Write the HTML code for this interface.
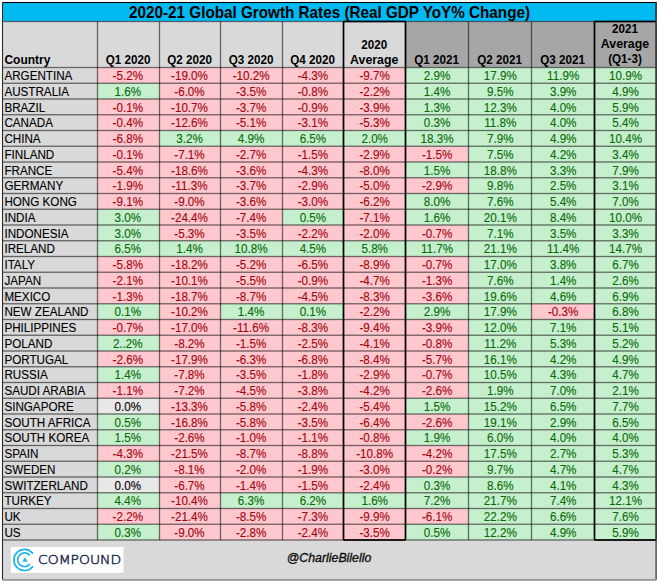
<!DOCTYPE html><html><head><meta charset="utf-8"><style>html,body{margin:0;padding:0;background:#fff;}svg{display:block;}text{font-family:"Liberation Sans",Arial,sans-serif;}</style></head><body>
<svg width="660" height="583" viewBox="0 0 660 583">
<rect x="2.5" y="2.5" width="653.6" height="19.0" fill="#02BAF2"/>
<rect x="2.5" y="21.5" width="403.0" height="46.0" fill="#D9D9D9"/>
<rect x="405.5" y="21.5" width="250.60000000000002" height="46.0" fill="#A6A6A6"/>
<rect x="2.5" y="67.5" width="95.0" height="472.5" fill="#D9D9D9"/>
<rect x="2.5" y="540.0" width="653.6" height="39.89999999999998" fill="#D9D9D9"/>
<rect x="97.5" y="67.5" width="62.0" height="15.75" fill="#FFC7CE"/>
<rect x="159.5" y="67.5" width="61.0" height="15.75" fill="#FFC7CE"/>
<rect x="220.5" y="67.5" width="62.0" height="15.75" fill="#FFC7CE"/>
<rect x="282.5" y="67.5" width="61.0" height="15.75" fill="#FFC7CE"/>
<rect x="343.5" y="67.5" width="62.0" height="15.75" fill="#FFC7CE"/>
<rect x="405.5" y="67.5" width="63.0" height="15.75" fill="#C6EFCE"/>
<rect x="468.5" y="67.5" width="63.0" height="15.75" fill="#C6EFCE"/>
<rect x="531.5" y="67.5" width="63.0" height="15.75" fill="#C6EFCE"/>
<rect x="594.5" y="67.5" width="61.60000000000002" height="15.75" fill="#C6EFCE"/>
<rect x="97.5" y="83.25" width="62.0" height="15.75" fill="#C6EFCE"/>
<rect x="159.5" y="83.25" width="61.0" height="15.75" fill="#FFC7CE"/>
<rect x="220.5" y="83.25" width="62.0" height="15.75" fill="#FFC7CE"/>
<rect x="282.5" y="83.25" width="61.0" height="15.75" fill="#FFC7CE"/>
<rect x="343.5" y="83.25" width="62.0" height="15.75" fill="#FFC7CE"/>
<rect x="405.5" y="83.25" width="63.0" height="15.75" fill="#C6EFCE"/>
<rect x="468.5" y="83.25" width="63.0" height="15.75" fill="#C6EFCE"/>
<rect x="531.5" y="83.25" width="63.0" height="15.75" fill="#C6EFCE"/>
<rect x="594.5" y="83.25" width="61.60000000000002" height="15.75" fill="#C6EFCE"/>
<rect x="97.5" y="99.0" width="62.0" height="15.75" fill="#FFC7CE"/>
<rect x="159.5" y="99.0" width="61.0" height="15.75" fill="#FFC7CE"/>
<rect x="220.5" y="99.0" width="62.0" height="15.75" fill="#FFC7CE"/>
<rect x="282.5" y="99.0" width="61.0" height="15.75" fill="#FFC7CE"/>
<rect x="343.5" y="99.0" width="62.0" height="15.75" fill="#FFC7CE"/>
<rect x="405.5" y="99.0" width="63.0" height="15.75" fill="#C6EFCE"/>
<rect x="468.5" y="99.0" width="63.0" height="15.75" fill="#C6EFCE"/>
<rect x="531.5" y="99.0" width="63.0" height="15.75" fill="#C6EFCE"/>
<rect x="594.5" y="99.0" width="61.60000000000002" height="15.75" fill="#C6EFCE"/>
<rect x="97.5" y="114.75" width="62.0" height="15.75" fill="#FFC7CE"/>
<rect x="159.5" y="114.75" width="61.0" height="15.75" fill="#FFC7CE"/>
<rect x="220.5" y="114.75" width="62.0" height="15.75" fill="#FFC7CE"/>
<rect x="282.5" y="114.75" width="61.0" height="15.75" fill="#FFC7CE"/>
<rect x="343.5" y="114.75" width="62.0" height="15.75" fill="#FFC7CE"/>
<rect x="405.5" y="114.75" width="63.0" height="15.75" fill="#C6EFCE"/>
<rect x="468.5" y="114.75" width="63.0" height="15.75" fill="#C6EFCE"/>
<rect x="531.5" y="114.75" width="63.0" height="15.75" fill="#C6EFCE"/>
<rect x="594.5" y="114.75" width="61.60000000000002" height="15.75" fill="#C6EFCE"/>
<rect x="97.5" y="130.5" width="62.0" height="15.75" fill="#FFC7CE"/>
<rect x="159.5" y="130.5" width="61.0" height="15.75" fill="#C6EFCE"/>
<rect x="220.5" y="130.5" width="62.0" height="15.75" fill="#C6EFCE"/>
<rect x="282.5" y="130.5" width="61.0" height="15.75" fill="#C6EFCE"/>
<rect x="343.5" y="130.5" width="62.0" height="15.75" fill="#C6EFCE"/>
<rect x="405.5" y="130.5" width="63.0" height="15.75" fill="#C6EFCE"/>
<rect x="468.5" y="130.5" width="63.0" height="15.75" fill="#C6EFCE"/>
<rect x="531.5" y="130.5" width="63.0" height="15.75" fill="#C6EFCE"/>
<rect x="594.5" y="130.5" width="61.60000000000002" height="15.75" fill="#C6EFCE"/>
<rect x="97.5" y="146.25" width="62.0" height="15.75" fill="#FFC7CE"/>
<rect x="159.5" y="146.25" width="61.0" height="15.75" fill="#FFC7CE"/>
<rect x="220.5" y="146.25" width="62.0" height="15.75" fill="#FFC7CE"/>
<rect x="282.5" y="146.25" width="61.0" height="15.75" fill="#FFC7CE"/>
<rect x="343.5" y="146.25" width="62.0" height="15.75" fill="#FFC7CE"/>
<rect x="405.5" y="146.25" width="63.0" height="15.75" fill="#FFC7CE"/>
<rect x="468.5" y="146.25" width="63.0" height="15.75" fill="#C6EFCE"/>
<rect x="531.5" y="146.25" width="63.0" height="15.75" fill="#C6EFCE"/>
<rect x="594.5" y="146.25" width="61.60000000000002" height="15.75" fill="#C6EFCE"/>
<rect x="97.5" y="162.0" width="62.0" height="15.75" fill="#FFC7CE"/>
<rect x="159.5" y="162.0" width="61.0" height="15.75" fill="#FFC7CE"/>
<rect x="220.5" y="162.0" width="62.0" height="15.75" fill="#FFC7CE"/>
<rect x="282.5" y="162.0" width="61.0" height="15.75" fill="#FFC7CE"/>
<rect x="343.5" y="162.0" width="62.0" height="15.75" fill="#FFC7CE"/>
<rect x="405.5" y="162.0" width="63.0" height="15.75" fill="#C6EFCE"/>
<rect x="468.5" y="162.0" width="63.0" height="15.75" fill="#C6EFCE"/>
<rect x="531.5" y="162.0" width="63.0" height="15.75" fill="#C6EFCE"/>
<rect x="594.5" y="162.0" width="61.60000000000002" height="15.75" fill="#C6EFCE"/>
<rect x="97.5" y="177.75" width="62.0" height="15.75" fill="#FFC7CE"/>
<rect x="159.5" y="177.75" width="61.0" height="15.75" fill="#FFC7CE"/>
<rect x="220.5" y="177.75" width="62.0" height="15.75" fill="#FFC7CE"/>
<rect x="282.5" y="177.75" width="61.0" height="15.75" fill="#FFC7CE"/>
<rect x="343.5" y="177.75" width="62.0" height="15.75" fill="#FFC7CE"/>
<rect x="405.5" y="177.75" width="63.0" height="15.75" fill="#FFC7CE"/>
<rect x="468.5" y="177.75" width="63.0" height="15.75" fill="#C6EFCE"/>
<rect x="531.5" y="177.75" width="63.0" height="15.75" fill="#C6EFCE"/>
<rect x="594.5" y="177.75" width="61.60000000000002" height="15.75" fill="#C6EFCE"/>
<rect x="97.5" y="193.5" width="62.0" height="15.75" fill="#FFC7CE"/>
<rect x="159.5" y="193.5" width="61.0" height="15.75" fill="#FFC7CE"/>
<rect x="220.5" y="193.5" width="62.0" height="15.75" fill="#FFC7CE"/>
<rect x="282.5" y="193.5" width="61.0" height="15.75" fill="#FFC7CE"/>
<rect x="343.5" y="193.5" width="62.0" height="15.75" fill="#FFC7CE"/>
<rect x="405.5" y="193.5" width="63.0" height="15.75" fill="#C6EFCE"/>
<rect x="468.5" y="193.5" width="63.0" height="15.75" fill="#C6EFCE"/>
<rect x="531.5" y="193.5" width="63.0" height="15.75" fill="#C6EFCE"/>
<rect x="594.5" y="193.5" width="61.60000000000002" height="15.75" fill="#C6EFCE"/>
<rect x="97.5" y="209.25" width="62.0" height="15.75" fill="#C6EFCE"/>
<rect x="159.5" y="209.25" width="61.0" height="15.75" fill="#FFC7CE"/>
<rect x="220.5" y="209.25" width="62.0" height="15.75" fill="#FFC7CE"/>
<rect x="282.5" y="209.25" width="61.0" height="15.75" fill="#C6EFCE"/>
<rect x="343.5" y="209.25" width="62.0" height="15.75" fill="#FFC7CE"/>
<rect x="405.5" y="209.25" width="63.0" height="15.75" fill="#C6EFCE"/>
<rect x="468.5" y="209.25" width="63.0" height="15.75" fill="#C6EFCE"/>
<rect x="531.5" y="209.25" width="63.0" height="15.75" fill="#C6EFCE"/>
<rect x="594.5" y="209.25" width="61.60000000000002" height="15.75" fill="#C6EFCE"/>
<rect x="97.5" y="225.0" width="62.0" height="15.75" fill="#C6EFCE"/>
<rect x="159.5" y="225.0" width="61.0" height="15.75" fill="#FFC7CE"/>
<rect x="220.5" y="225.0" width="62.0" height="15.75" fill="#FFC7CE"/>
<rect x="282.5" y="225.0" width="61.0" height="15.75" fill="#FFC7CE"/>
<rect x="343.5" y="225.0" width="62.0" height="15.75" fill="#FFC7CE"/>
<rect x="405.5" y="225.0" width="63.0" height="15.75" fill="#FFC7CE"/>
<rect x="468.5" y="225.0" width="63.0" height="15.75" fill="#C6EFCE"/>
<rect x="531.5" y="225.0" width="63.0" height="15.75" fill="#C6EFCE"/>
<rect x="594.5" y="225.0" width="61.60000000000002" height="15.75" fill="#C6EFCE"/>
<rect x="97.5" y="240.75" width="62.0" height="15.75" fill="#C6EFCE"/>
<rect x="159.5" y="240.75" width="61.0" height="15.75" fill="#C6EFCE"/>
<rect x="220.5" y="240.75" width="62.0" height="15.75" fill="#C6EFCE"/>
<rect x="282.5" y="240.75" width="61.0" height="15.75" fill="#C6EFCE"/>
<rect x="343.5" y="240.75" width="62.0" height="15.75" fill="#C6EFCE"/>
<rect x="405.5" y="240.75" width="63.0" height="15.75" fill="#C6EFCE"/>
<rect x="468.5" y="240.75" width="63.0" height="15.75" fill="#C6EFCE"/>
<rect x="531.5" y="240.75" width="63.0" height="15.75" fill="#C6EFCE"/>
<rect x="594.5" y="240.75" width="61.60000000000002" height="15.75" fill="#C6EFCE"/>
<rect x="97.5" y="256.5" width="62.0" height="15.75" fill="#FFC7CE"/>
<rect x="159.5" y="256.5" width="61.0" height="15.75" fill="#FFC7CE"/>
<rect x="220.5" y="256.5" width="62.0" height="15.75" fill="#FFC7CE"/>
<rect x="282.5" y="256.5" width="61.0" height="15.75" fill="#FFC7CE"/>
<rect x="343.5" y="256.5" width="62.0" height="15.75" fill="#FFC7CE"/>
<rect x="405.5" y="256.5" width="63.0" height="15.75" fill="#FFC7CE"/>
<rect x="468.5" y="256.5" width="63.0" height="15.75" fill="#C6EFCE"/>
<rect x="531.5" y="256.5" width="63.0" height="15.75" fill="#C6EFCE"/>
<rect x="594.5" y="256.5" width="61.60000000000002" height="15.75" fill="#C6EFCE"/>
<rect x="97.5" y="272.25" width="62.0" height="15.75" fill="#FFC7CE"/>
<rect x="159.5" y="272.25" width="61.0" height="15.75" fill="#FFC7CE"/>
<rect x="220.5" y="272.25" width="62.0" height="15.75" fill="#FFC7CE"/>
<rect x="282.5" y="272.25" width="61.0" height="15.75" fill="#FFC7CE"/>
<rect x="343.5" y="272.25" width="62.0" height="15.75" fill="#FFC7CE"/>
<rect x="405.5" y="272.25" width="63.0" height="15.75" fill="#FFC7CE"/>
<rect x="468.5" y="272.25" width="63.0" height="15.75" fill="#C6EFCE"/>
<rect x="531.5" y="272.25" width="63.0" height="15.75" fill="#C6EFCE"/>
<rect x="594.5" y="272.25" width="61.60000000000002" height="15.75" fill="#C6EFCE"/>
<rect x="97.5" y="288.0" width="62.0" height="15.75" fill="#FFC7CE"/>
<rect x="159.5" y="288.0" width="61.0" height="15.75" fill="#FFC7CE"/>
<rect x="220.5" y="288.0" width="62.0" height="15.75" fill="#FFC7CE"/>
<rect x="282.5" y="288.0" width="61.0" height="15.75" fill="#FFC7CE"/>
<rect x="343.5" y="288.0" width="62.0" height="15.75" fill="#FFC7CE"/>
<rect x="405.5" y="288.0" width="63.0" height="15.75" fill="#FFC7CE"/>
<rect x="468.5" y="288.0" width="63.0" height="15.75" fill="#C6EFCE"/>
<rect x="531.5" y="288.0" width="63.0" height="15.75" fill="#C6EFCE"/>
<rect x="594.5" y="288.0" width="61.60000000000002" height="15.75" fill="#C6EFCE"/>
<rect x="97.5" y="303.75" width="62.0" height="15.75" fill="#C6EFCE"/>
<rect x="159.5" y="303.75" width="61.0" height="15.75" fill="#FFC7CE"/>
<rect x="220.5" y="303.75" width="62.0" height="15.75" fill="#C6EFCE"/>
<rect x="282.5" y="303.75" width="61.0" height="15.75" fill="#C6EFCE"/>
<rect x="343.5" y="303.75" width="62.0" height="15.75" fill="#FFC7CE"/>
<rect x="405.5" y="303.75" width="63.0" height="15.75" fill="#C6EFCE"/>
<rect x="468.5" y="303.75" width="63.0" height="15.75" fill="#C6EFCE"/>
<rect x="531.5" y="303.75" width="63.0" height="15.75" fill="#FFC7CE"/>
<rect x="594.5" y="303.75" width="61.60000000000002" height="15.75" fill="#C6EFCE"/>
<rect x="97.5" y="319.5" width="62.0" height="15.75" fill="#FFC7CE"/>
<rect x="159.5" y="319.5" width="61.0" height="15.75" fill="#FFC7CE"/>
<rect x="220.5" y="319.5" width="62.0" height="15.75" fill="#FFC7CE"/>
<rect x="282.5" y="319.5" width="61.0" height="15.75" fill="#FFC7CE"/>
<rect x="343.5" y="319.5" width="62.0" height="15.75" fill="#FFC7CE"/>
<rect x="405.5" y="319.5" width="63.0" height="15.75" fill="#FFC7CE"/>
<rect x="468.5" y="319.5" width="63.0" height="15.75" fill="#C6EFCE"/>
<rect x="531.5" y="319.5" width="63.0" height="15.75" fill="#C6EFCE"/>
<rect x="594.5" y="319.5" width="61.60000000000002" height="15.75" fill="#C6EFCE"/>
<rect x="97.5" y="335.25" width="62.0" height="15.75" fill="#C6EFCE"/>
<rect x="159.5" y="335.25" width="61.0" height="15.75" fill="#FFC7CE"/>
<rect x="220.5" y="335.25" width="62.0" height="15.75" fill="#FFC7CE"/>
<rect x="282.5" y="335.25" width="61.0" height="15.75" fill="#FFC7CE"/>
<rect x="343.5" y="335.25" width="62.0" height="15.75" fill="#FFC7CE"/>
<rect x="405.5" y="335.25" width="63.0" height="15.75" fill="#FFC7CE"/>
<rect x="468.5" y="335.25" width="63.0" height="15.75" fill="#C6EFCE"/>
<rect x="531.5" y="335.25" width="63.0" height="15.75" fill="#C6EFCE"/>
<rect x="594.5" y="335.25" width="61.60000000000002" height="15.75" fill="#C6EFCE"/>
<rect x="97.5" y="351.0" width="62.0" height="15.75" fill="#FFC7CE"/>
<rect x="159.5" y="351.0" width="61.0" height="15.75" fill="#FFC7CE"/>
<rect x="220.5" y="351.0" width="62.0" height="15.75" fill="#FFC7CE"/>
<rect x="282.5" y="351.0" width="61.0" height="15.75" fill="#FFC7CE"/>
<rect x="343.5" y="351.0" width="62.0" height="15.75" fill="#FFC7CE"/>
<rect x="405.5" y="351.0" width="63.0" height="15.75" fill="#FFC7CE"/>
<rect x="468.5" y="351.0" width="63.0" height="15.75" fill="#C6EFCE"/>
<rect x="531.5" y="351.0" width="63.0" height="15.75" fill="#C6EFCE"/>
<rect x="594.5" y="351.0" width="61.60000000000002" height="15.75" fill="#C6EFCE"/>
<rect x="97.5" y="366.75" width="62.0" height="15.75" fill="#C6EFCE"/>
<rect x="159.5" y="366.75" width="61.0" height="15.75" fill="#FFC7CE"/>
<rect x="220.5" y="366.75" width="62.0" height="15.75" fill="#FFC7CE"/>
<rect x="282.5" y="366.75" width="61.0" height="15.75" fill="#FFC7CE"/>
<rect x="343.5" y="366.75" width="62.0" height="15.75" fill="#FFC7CE"/>
<rect x="405.5" y="366.75" width="63.0" height="15.75" fill="#FFC7CE"/>
<rect x="468.5" y="366.75" width="63.0" height="15.75" fill="#C6EFCE"/>
<rect x="531.5" y="366.75" width="63.0" height="15.75" fill="#C6EFCE"/>
<rect x="594.5" y="366.75" width="61.60000000000002" height="15.75" fill="#C6EFCE"/>
<rect x="97.5" y="382.5" width="62.0" height="15.75" fill="#FFC7CE"/>
<rect x="159.5" y="382.5" width="61.0" height="15.75" fill="#FFC7CE"/>
<rect x="220.5" y="382.5" width="62.0" height="15.75" fill="#FFC7CE"/>
<rect x="282.5" y="382.5" width="61.0" height="15.75" fill="#FFC7CE"/>
<rect x="343.5" y="382.5" width="62.0" height="15.75" fill="#FFC7CE"/>
<rect x="405.5" y="382.5" width="63.0" height="15.75" fill="#FFC7CE"/>
<rect x="468.5" y="382.5" width="63.0" height="15.75" fill="#C6EFCE"/>
<rect x="531.5" y="382.5" width="63.0" height="15.75" fill="#C6EFCE"/>
<rect x="594.5" y="382.5" width="61.60000000000002" height="15.75" fill="#C6EFCE"/>
<rect x="97.5" y="398.25" width="62.0" height="15.75" fill="#E8E8E8"/>
<rect x="159.5" y="398.25" width="61.0" height="15.75" fill="#FFC7CE"/>
<rect x="220.5" y="398.25" width="62.0" height="15.75" fill="#FFC7CE"/>
<rect x="282.5" y="398.25" width="61.0" height="15.75" fill="#FFC7CE"/>
<rect x="343.5" y="398.25" width="62.0" height="15.75" fill="#FFC7CE"/>
<rect x="405.5" y="398.25" width="63.0" height="15.75" fill="#C6EFCE"/>
<rect x="468.5" y="398.25" width="63.0" height="15.75" fill="#C6EFCE"/>
<rect x="531.5" y="398.25" width="63.0" height="15.75" fill="#C6EFCE"/>
<rect x="594.5" y="398.25" width="61.60000000000002" height="15.75" fill="#C6EFCE"/>
<rect x="97.5" y="414.0" width="62.0" height="15.75" fill="#C6EFCE"/>
<rect x="159.5" y="414.0" width="61.0" height="15.75" fill="#FFC7CE"/>
<rect x="220.5" y="414.0" width="62.0" height="15.75" fill="#FFC7CE"/>
<rect x="282.5" y="414.0" width="61.0" height="15.75" fill="#FFC7CE"/>
<rect x="343.5" y="414.0" width="62.0" height="15.75" fill="#FFC7CE"/>
<rect x="405.5" y="414.0" width="63.0" height="15.75" fill="#FFC7CE"/>
<rect x="468.5" y="414.0" width="63.0" height="15.75" fill="#C6EFCE"/>
<rect x="531.5" y="414.0" width="63.0" height="15.75" fill="#C6EFCE"/>
<rect x="594.5" y="414.0" width="61.60000000000002" height="15.75" fill="#C6EFCE"/>
<rect x="97.5" y="429.75" width="62.0" height="15.75" fill="#C6EFCE"/>
<rect x="159.5" y="429.75" width="61.0" height="15.75" fill="#FFC7CE"/>
<rect x="220.5" y="429.75" width="62.0" height="15.75" fill="#FFC7CE"/>
<rect x="282.5" y="429.75" width="61.0" height="15.75" fill="#FFC7CE"/>
<rect x="343.5" y="429.75" width="62.0" height="15.75" fill="#FFC7CE"/>
<rect x="405.5" y="429.75" width="63.0" height="15.75" fill="#C6EFCE"/>
<rect x="468.5" y="429.75" width="63.0" height="15.75" fill="#C6EFCE"/>
<rect x="531.5" y="429.75" width="63.0" height="15.75" fill="#C6EFCE"/>
<rect x="594.5" y="429.75" width="61.60000000000002" height="15.75" fill="#C6EFCE"/>
<rect x="97.5" y="445.5" width="62.0" height="15.75" fill="#FFC7CE"/>
<rect x="159.5" y="445.5" width="61.0" height="15.75" fill="#FFC7CE"/>
<rect x="220.5" y="445.5" width="62.0" height="15.75" fill="#FFC7CE"/>
<rect x="282.5" y="445.5" width="61.0" height="15.75" fill="#FFC7CE"/>
<rect x="343.5" y="445.5" width="62.0" height="15.75" fill="#FFC7CE"/>
<rect x="405.5" y="445.5" width="63.0" height="15.75" fill="#FFC7CE"/>
<rect x="468.5" y="445.5" width="63.0" height="15.75" fill="#C6EFCE"/>
<rect x="531.5" y="445.5" width="63.0" height="15.75" fill="#C6EFCE"/>
<rect x="594.5" y="445.5" width="61.60000000000002" height="15.75" fill="#C6EFCE"/>
<rect x="97.5" y="461.25" width="62.0" height="15.75" fill="#C6EFCE"/>
<rect x="159.5" y="461.25" width="61.0" height="15.75" fill="#FFC7CE"/>
<rect x="220.5" y="461.25" width="62.0" height="15.75" fill="#FFC7CE"/>
<rect x="282.5" y="461.25" width="61.0" height="15.75" fill="#FFC7CE"/>
<rect x="343.5" y="461.25" width="62.0" height="15.75" fill="#FFC7CE"/>
<rect x="405.5" y="461.25" width="63.0" height="15.75" fill="#FFC7CE"/>
<rect x="468.5" y="461.25" width="63.0" height="15.75" fill="#C6EFCE"/>
<rect x="531.5" y="461.25" width="63.0" height="15.75" fill="#C6EFCE"/>
<rect x="594.5" y="461.25" width="61.60000000000002" height="15.75" fill="#C6EFCE"/>
<rect x="97.5" y="477.0" width="62.0" height="15.75" fill="#E8E8E8"/>
<rect x="159.5" y="477.0" width="61.0" height="15.75" fill="#FFC7CE"/>
<rect x="220.5" y="477.0" width="62.0" height="15.75" fill="#FFC7CE"/>
<rect x="282.5" y="477.0" width="61.0" height="15.75" fill="#FFC7CE"/>
<rect x="343.5" y="477.0" width="62.0" height="15.75" fill="#FFC7CE"/>
<rect x="405.5" y="477.0" width="63.0" height="15.75" fill="#C6EFCE"/>
<rect x="468.5" y="477.0" width="63.0" height="15.75" fill="#C6EFCE"/>
<rect x="531.5" y="477.0" width="63.0" height="15.75" fill="#C6EFCE"/>
<rect x="594.5" y="477.0" width="61.60000000000002" height="15.75" fill="#C6EFCE"/>
<rect x="97.5" y="492.75" width="62.0" height="15.75" fill="#C6EFCE"/>
<rect x="159.5" y="492.75" width="61.0" height="15.75" fill="#FFC7CE"/>
<rect x="220.5" y="492.75" width="62.0" height="15.75" fill="#C6EFCE"/>
<rect x="282.5" y="492.75" width="61.0" height="15.75" fill="#C6EFCE"/>
<rect x="343.5" y="492.75" width="62.0" height="15.75" fill="#C6EFCE"/>
<rect x="405.5" y="492.75" width="63.0" height="15.75" fill="#C6EFCE"/>
<rect x="468.5" y="492.75" width="63.0" height="15.75" fill="#C6EFCE"/>
<rect x="531.5" y="492.75" width="63.0" height="15.75" fill="#C6EFCE"/>
<rect x="594.5" y="492.75" width="61.60000000000002" height="15.75" fill="#C6EFCE"/>
<rect x="97.5" y="508.5" width="62.0" height="15.75" fill="#FFC7CE"/>
<rect x="159.5" y="508.5" width="61.0" height="15.75" fill="#FFC7CE"/>
<rect x="220.5" y="508.5" width="62.0" height="15.75" fill="#FFC7CE"/>
<rect x="282.5" y="508.5" width="61.0" height="15.75" fill="#FFC7CE"/>
<rect x="343.5" y="508.5" width="62.0" height="15.75" fill="#FFC7CE"/>
<rect x="405.5" y="508.5" width="63.0" height="15.75" fill="#FFC7CE"/>
<rect x="468.5" y="508.5" width="63.0" height="15.75" fill="#C6EFCE"/>
<rect x="531.5" y="508.5" width="63.0" height="15.75" fill="#C6EFCE"/>
<rect x="594.5" y="508.5" width="61.60000000000002" height="15.75" fill="#C6EFCE"/>
<rect x="97.5" y="524.25" width="62.0" height="15.75" fill="#C6EFCE"/>
<rect x="159.5" y="524.25" width="61.0" height="15.75" fill="#FFC7CE"/>
<rect x="220.5" y="524.25" width="62.0" height="15.75" fill="#FFC7CE"/>
<rect x="282.5" y="524.25" width="61.0" height="15.75" fill="#FFC7CE"/>
<rect x="343.5" y="524.25" width="62.0" height="15.75" fill="#FFC7CE"/>
<rect x="405.5" y="524.25" width="63.0" height="15.75" fill="#C6EFCE"/>
<rect x="468.5" y="524.25" width="63.0" height="15.75" fill="#C6EFCE"/>
<rect x="531.5" y="524.25" width="63.0" height="15.75" fill="#C6EFCE"/>
<rect x="594.5" y="524.25" width="61.60000000000002" height="15.75" fill="#C6EFCE"/>
<rect x="2.5" y="66.850" width="653.6" height="1.3" fill="#000" fill-opacity="0.55"/>
<rect x="2.5" y="82.600" width="653.6" height="1.3" fill="#000" fill-opacity="0.55"/>
<rect x="2.5" y="98.350" width="653.6" height="1.3" fill="#000" fill-opacity="0.55"/>
<rect x="2.5" y="114.100" width="653.6" height="1.3" fill="#000" fill-opacity="0.55"/>
<rect x="2.5" y="129.850" width="653.6" height="1.3" fill="#000" fill-opacity="0.55"/>
<rect x="2.5" y="145.600" width="653.6" height="1.3" fill="#000" fill-opacity="0.55"/>
<rect x="2.5" y="161.350" width="653.6" height="1.3" fill="#000" fill-opacity="0.55"/>
<rect x="2.5" y="177.100" width="653.6" height="1.3" fill="#000" fill-opacity="0.55"/>
<rect x="2.5" y="192.850" width="653.6" height="1.3" fill="#000" fill-opacity="0.55"/>
<rect x="2.5" y="208.600" width="653.6" height="1.3" fill="#000" fill-opacity="0.55"/>
<rect x="2.5" y="224.350" width="653.6" height="1.3" fill="#000" fill-opacity="0.55"/>
<rect x="2.5" y="240.100" width="653.6" height="1.3" fill="#000" fill-opacity="0.55"/>
<rect x="2.5" y="255.850" width="653.6" height="1.3" fill="#000" fill-opacity="0.55"/>
<rect x="2.5" y="271.600" width="653.6" height="1.3" fill="#000" fill-opacity="0.55"/>
<rect x="2.5" y="287.350" width="653.6" height="1.3" fill="#000" fill-opacity="0.55"/>
<rect x="2.5" y="303.100" width="653.6" height="1.3" fill="#000" fill-opacity="0.55"/>
<rect x="2.5" y="318.850" width="653.6" height="1.3" fill="#000" fill-opacity="0.55"/>
<rect x="2.5" y="334.600" width="653.6" height="1.3" fill="#000" fill-opacity="0.55"/>
<rect x="2.5" y="350.350" width="653.6" height="1.3" fill="#000" fill-opacity="0.55"/>
<rect x="2.5" y="366.100" width="653.6" height="1.3" fill="#000" fill-opacity="0.55"/>
<rect x="2.5" y="381.850" width="653.6" height="1.3" fill="#000" fill-opacity="0.55"/>
<rect x="2.5" y="397.600" width="653.6" height="1.3" fill="#000" fill-opacity="0.55"/>
<rect x="2.5" y="413.350" width="653.6" height="1.3" fill="#000" fill-opacity="0.55"/>
<rect x="2.5" y="429.100" width="653.6" height="1.3" fill="#000" fill-opacity="0.55"/>
<rect x="2.5" y="444.850" width="653.6" height="1.3" fill="#000" fill-opacity="0.55"/>
<rect x="2.5" y="460.600" width="653.6" height="1.3" fill="#000" fill-opacity="0.55"/>
<rect x="2.5" y="476.350" width="653.6" height="1.3" fill="#000" fill-opacity="0.55"/>
<rect x="2.5" y="492.100" width="653.6" height="1.3" fill="#000" fill-opacity="0.55"/>
<rect x="2.5" y="507.850" width="653.6" height="1.3" fill="#000" fill-opacity="0.55"/>
<rect x="2.5" y="523.600" width="653.6" height="1.3" fill="#000" fill-opacity="0.55"/>
<rect x="2.5" y="539.350" width="653.6" height="1.3" fill="#000" fill-opacity="0.55"/>
<rect x="2.5" y="1.950" width="654.2" height="1.1" fill="#000" fill-opacity="1"/>
<rect x="2.5" y="20.850" width="653.6" height="1.3" fill="#000" fill-opacity="0.55"/>
<rect x="96.850" y="21.5" width="1.3" height="518.5" fill="#000" fill-opacity="0.55"/>
<rect x="158.850" y="21.5" width="1.3" height="518.5" fill="#000" fill-opacity="0.55"/>
<rect x="219.850" y="21.5" width="1.3" height="518.5" fill="#000" fill-opacity="0.55"/>
<rect x="281.850" y="21.5" width="1.3" height="518.5" fill="#000" fill-opacity="0.55"/>
<rect x="342.850" y="21.5" width="1.3" height="518.5" fill="#000" fill-opacity="0.55"/>
<rect x="404.850" y="21.5" width="1.3" height="518.5" fill="#000" fill-opacity="0.55"/>
<rect x="467.850" y="21.5" width="1.3" height="518.5" fill="#000" fill-opacity="0.55"/>
<rect x="530.850" y="21.5" width="1.3" height="518.5" fill="#000" fill-opacity="0.55"/>
<rect x="593.850" y="21.5" width="1.3" height="518.5" fill="#000" fill-opacity="0.55"/>
<rect x="342.700" y="21.5" width="1.6" height="518.5" fill="#000" fill-opacity="1"/>
<rect x="404.700" y="21.5" width="1.6" height="518.5" fill="#000" fill-opacity="1"/>
<rect x="343.5" y="20.700" width="62.0" height="1.6" fill="#000" fill-opacity="1"/>
<rect x="343.5" y="539.200" width="62.0" height="1.6" fill="#000" fill-opacity="1"/>
<rect x="593.700" y="21.5" width="1.6" height="518.5" fill="#000" fill-opacity="1"/>
<rect x="655.300" y="21.5" width="1.6" height="518.5" fill="#2a2a2a" fill-opacity="1"/>
<rect x="594.5" y="20.700" width="61.60000000000002" height="1.6" fill="#000" fill-opacity="1"/>
<rect x="594.5" y="539.200" width="61.60000000000002" height="1.6" fill="#000" fill-opacity="1"/>
<rect x="1.950" y="2.5" width="1.1" height="577.4" fill="#2a2a2a" fill-opacity="1"/>
<rect x="655.350" y="2.5" width="1.5" height="19.0" fill="#222" fill-opacity="1"/>
<rect x="655.400" y="540.0" width="1.4" height="39.89999999999998" fill="#444" fill-opacity="1"/>
<rect x="2.5" y="579.000" width="654.2" height="1.8" fill="#979797" fill-opacity="1"/>
<text x="329.55" y="17.6" text-anchor="middle" font-size="15.7" font-weight="bold" fill="#000" textLength="401" lengthAdjust="spacingAndGlyphs">2020-21 Global Growth Rates (Real GDP YoY% Change)</text>
<text x="4.4" y="63.7" font-size="12.0" font-weight="bold" fill="#000" textLength="46" lengthAdjust="spacingAndGlyphs">Country</text>
<text x="128.1" y="63.6" text-anchor="middle" font-size="12.0" font-weight="bold" fill="#000" textLength="44.69" lengthAdjust="spacingAndGlyphs">Q1 2020</text>
<text x="189.6" y="63.6" text-anchor="middle" font-size="12.0" font-weight="bold" fill="#000" textLength="44.69" lengthAdjust="spacingAndGlyphs">Q2 2020</text>
<text x="251.1" y="63.6" text-anchor="middle" font-size="12.0" font-weight="bold" fill="#000" textLength="44.69" lengthAdjust="spacingAndGlyphs">Q3 2020</text>
<text x="312.6" y="63.6" text-anchor="middle" font-size="12.0" font-weight="bold" fill="#000" textLength="44.69" lengthAdjust="spacingAndGlyphs">Q4 2020</text>
<text x="436.6" y="63.6" text-anchor="middle" font-size="12.0" font-weight="bold" fill="#000" textLength="44.69" lengthAdjust="spacingAndGlyphs">Q1 2021</text>
<text x="499.6" y="63.6" text-anchor="middle" font-size="12.0" font-weight="bold" fill="#000" textLength="44.69" lengthAdjust="spacingAndGlyphs">Q2 2021</text>
<text x="562.6" y="63.6" text-anchor="middle" font-size="12.0" font-weight="bold" fill="#000" textLength="44.69" lengthAdjust="spacingAndGlyphs">Q3 2021</text>
<text x="374.2" y="48.6" text-anchor="middle" font-size="12.0" font-weight="bold" fill="#000" textLength="25.92" lengthAdjust="spacingAndGlyphs">2020</text>
<text x="374.2" y="63.5" text-anchor="middle" font-size="12.0" font-weight="bold" fill="#000" textLength="48.30" lengthAdjust="spacingAndGlyphs">Average</text>
<text x="625.0" y="33.3" text-anchor="middle" font-size="12.0" font-weight="bold" fill="#000" textLength="25.92" lengthAdjust="spacingAndGlyphs">2021</text>
<text x="625.0" y="48.3" text-anchor="middle" font-size="12.0" font-weight="bold" fill="#000" textLength="48.30" lengthAdjust="spacingAndGlyphs">Average</text>
<text x="625.0" y="63.3" text-anchor="middle" font-size="12.0" font-weight="bold" fill="#000" textLength="33.66" lengthAdjust="spacingAndGlyphs">(Q1-3)</text>
<text x="4.4" y="80.00" font-size="12.0" fill="#000" stroke="#000" stroke-width="0.12" textLength="67.97" lengthAdjust="spacingAndGlyphs">ARGENTINA</text>
<text x="127.80" y="80.00" text-anchor="middle" font-size="12.0" fill="#A2060E" stroke="#A2060E" stroke-width="0.12" textLength="30.43" lengthAdjust="spacingAndGlyphs">-5.2%</text>
<text x="189.50" y="80.00" text-anchor="middle" font-size="12.0" fill="#A2060E" stroke="#A2060E" stroke-width="0.12" textLength="36.91" lengthAdjust="spacingAndGlyphs">-19.0%</text>
<text x="251.10" y="80.00" text-anchor="middle" font-size="12.0" fill="#A2060E" stroke="#A2060E" stroke-width="0.12" textLength="36.91" lengthAdjust="spacingAndGlyphs">-10.2%</text>
<text x="312.90" y="80.00" text-anchor="middle" font-size="12.0" fill="#A2060E" stroke="#A2060E" stroke-width="0.12" textLength="30.43" lengthAdjust="spacingAndGlyphs">-4.3%</text>
<text x="374.70" y="80.00" text-anchor="middle" font-size="12.0" fill="#A2060E" stroke="#A2060E" stroke-width="0.12" textLength="30.43" lengthAdjust="spacingAndGlyphs">-9.7%</text>
<text x="437.10" y="80.00" text-anchor="middle" font-size="12.0" fill="#086C08" stroke="#086C08" stroke-width="0.12" textLength="26.55" lengthAdjust="spacingAndGlyphs">2.9%</text>
<text x="500.30" y="80.00" text-anchor="middle" font-size="12.0" fill="#086C08" stroke="#086C08" stroke-width="0.12" textLength="33.03" lengthAdjust="spacingAndGlyphs">17.9%</text>
<text x="563.20" y="80.00" text-anchor="middle" font-size="12.0" fill="#086C08" stroke="#086C08" stroke-width="0.12" textLength="32.17" lengthAdjust="spacingAndGlyphs">11.9%</text>
<text x="625.50" y="80.00" text-anchor="middle" font-size="12.0" fill="#086C08" stroke="#086C08" stroke-width="0.12" textLength="33.03" lengthAdjust="spacingAndGlyphs">10.9%</text>
<text x="4.4" y="95.75" font-size="12.0" fill="#000" stroke="#000" stroke-width="0.12" textLength="64.74" lengthAdjust="spacingAndGlyphs">AUSTRALIA</text>
<text x="127.80" y="95.75" text-anchor="middle" font-size="12.0" fill="#086C08" stroke="#086C08" stroke-width="0.12" textLength="26.55" lengthAdjust="spacingAndGlyphs">1.6%</text>
<text x="189.50" y="95.75" text-anchor="middle" font-size="12.0" fill="#A2060E" stroke="#A2060E" stroke-width="0.12" textLength="30.43" lengthAdjust="spacingAndGlyphs">-6.0%</text>
<text x="251.10" y="95.75" text-anchor="middle" font-size="12.0" fill="#A2060E" stroke="#A2060E" stroke-width="0.12" textLength="30.43" lengthAdjust="spacingAndGlyphs">-3.5%</text>
<text x="312.90" y="95.75" text-anchor="middle" font-size="12.0" fill="#A2060E" stroke="#A2060E" stroke-width="0.12" textLength="30.43" lengthAdjust="spacingAndGlyphs">-0.8%</text>
<text x="374.70" y="95.75" text-anchor="middle" font-size="12.0" fill="#A2060E" stroke="#A2060E" stroke-width="0.12" textLength="30.43" lengthAdjust="spacingAndGlyphs">-2.2%</text>
<text x="437.10" y="95.75" text-anchor="middle" font-size="12.0" fill="#086C08" stroke="#086C08" stroke-width="0.12" textLength="26.55" lengthAdjust="spacingAndGlyphs">1.4%</text>
<text x="500.30" y="95.75" text-anchor="middle" font-size="12.0" fill="#086C08" stroke="#086C08" stroke-width="0.12" textLength="26.55" lengthAdjust="spacingAndGlyphs">9.5%</text>
<text x="563.20" y="95.75" text-anchor="middle" font-size="12.0" fill="#086C08" stroke="#086C08" stroke-width="0.12" textLength="26.55" lengthAdjust="spacingAndGlyphs">3.9%</text>
<text x="625.50" y="95.75" text-anchor="middle" font-size="12.0" fill="#086C08" stroke="#086C08" stroke-width="0.12" textLength="26.55" lengthAdjust="spacingAndGlyphs">4.9%</text>
<text x="4.4" y="111.50" font-size="12.0" fill="#000" stroke="#000" stroke-width="0.12" textLength="40.79" lengthAdjust="spacingAndGlyphs">BRAZIL</text>
<text x="127.80" y="111.50" text-anchor="middle" font-size="12.0" fill="#A2060E" stroke="#A2060E" stroke-width="0.12" textLength="30.43" lengthAdjust="spacingAndGlyphs">-0.1%</text>
<text x="189.50" y="111.50" text-anchor="middle" font-size="12.0" fill="#A2060E" stroke="#A2060E" stroke-width="0.12" textLength="36.91" lengthAdjust="spacingAndGlyphs">-10.7%</text>
<text x="251.10" y="111.50" text-anchor="middle" font-size="12.0" fill="#A2060E" stroke="#A2060E" stroke-width="0.12" textLength="30.43" lengthAdjust="spacingAndGlyphs">-3.7%</text>
<text x="312.90" y="111.50" text-anchor="middle" font-size="12.0" fill="#A2060E" stroke="#A2060E" stroke-width="0.12" textLength="30.43" lengthAdjust="spacingAndGlyphs">-0.9%</text>
<text x="374.70" y="111.50" text-anchor="middle" font-size="12.0" fill="#A2060E" stroke="#A2060E" stroke-width="0.12" textLength="30.43" lengthAdjust="spacingAndGlyphs">-3.9%</text>
<text x="437.10" y="111.50" text-anchor="middle" font-size="12.0" fill="#086C08" stroke="#086C08" stroke-width="0.12" textLength="26.55" lengthAdjust="spacingAndGlyphs">1.3%</text>
<text x="500.30" y="111.50" text-anchor="middle" font-size="12.0" fill="#086C08" stroke="#086C08" stroke-width="0.12" textLength="33.03" lengthAdjust="spacingAndGlyphs">12.3%</text>
<text x="563.20" y="111.50" text-anchor="middle" font-size="12.0" fill="#086C08" stroke="#086C08" stroke-width="0.12" textLength="26.55" lengthAdjust="spacingAndGlyphs">4.0%</text>
<text x="625.50" y="111.50" text-anchor="middle" font-size="12.0" fill="#086C08" stroke="#086C08" stroke-width="0.12" textLength="26.55" lengthAdjust="spacingAndGlyphs">5.9%</text>
<text x="4.4" y="127.25" font-size="12.0" fill="#000" stroke="#000" stroke-width="0.12" textLength="48.55" lengthAdjust="spacingAndGlyphs">CANADA</text>
<text x="127.80" y="127.25" text-anchor="middle" font-size="12.0" fill="#A2060E" stroke="#A2060E" stroke-width="0.12" textLength="30.43" lengthAdjust="spacingAndGlyphs">-0.4%</text>
<text x="189.50" y="127.25" text-anchor="middle" font-size="12.0" fill="#A2060E" stroke="#A2060E" stroke-width="0.12" textLength="36.91" lengthAdjust="spacingAndGlyphs">-12.6%</text>
<text x="251.10" y="127.25" text-anchor="middle" font-size="12.0" fill="#A2060E" stroke="#A2060E" stroke-width="0.12" textLength="30.43" lengthAdjust="spacingAndGlyphs">-5.1%</text>
<text x="312.90" y="127.25" text-anchor="middle" font-size="12.0" fill="#A2060E" stroke="#A2060E" stroke-width="0.12" textLength="30.43" lengthAdjust="spacingAndGlyphs">-3.1%</text>
<text x="374.70" y="127.25" text-anchor="middle" font-size="12.0" fill="#A2060E" stroke="#A2060E" stroke-width="0.12" textLength="30.43" lengthAdjust="spacingAndGlyphs">-5.3%</text>
<text x="437.10" y="127.25" text-anchor="middle" font-size="12.0" fill="#086C08" stroke="#086C08" stroke-width="0.12" textLength="26.55" lengthAdjust="spacingAndGlyphs">0.3%</text>
<text x="500.30" y="127.25" text-anchor="middle" font-size="12.0" fill="#086C08" stroke="#086C08" stroke-width="0.12" textLength="32.17" lengthAdjust="spacingAndGlyphs">11.8%</text>
<text x="563.20" y="127.25" text-anchor="middle" font-size="12.0" fill="#086C08" stroke="#086C08" stroke-width="0.12" textLength="26.55" lengthAdjust="spacingAndGlyphs">4.0%</text>
<text x="625.50" y="127.25" text-anchor="middle" font-size="12.0" fill="#086C08" stroke="#086C08" stroke-width="0.12" textLength="26.55" lengthAdjust="spacingAndGlyphs">5.4%</text>
<text x="4.4" y="143.00" font-size="12.0" fill="#000" stroke="#000" stroke-width="0.12" textLength="36.25" lengthAdjust="spacingAndGlyphs">CHINA</text>
<text x="127.80" y="143.00" text-anchor="middle" font-size="12.0" fill="#A2060E" stroke="#A2060E" stroke-width="0.12" textLength="30.43" lengthAdjust="spacingAndGlyphs">-6.8%</text>
<text x="189.50" y="143.00" text-anchor="middle" font-size="12.0" fill="#086C08" stroke="#086C08" stroke-width="0.12" textLength="26.55" lengthAdjust="spacingAndGlyphs">3.2%</text>
<text x="251.10" y="143.00" text-anchor="middle" font-size="12.0" fill="#086C08" stroke="#086C08" stroke-width="0.12" textLength="26.55" lengthAdjust="spacingAndGlyphs">4.9%</text>
<text x="312.90" y="143.00" text-anchor="middle" font-size="12.0" fill="#086C08" stroke="#086C08" stroke-width="0.12" textLength="26.55" lengthAdjust="spacingAndGlyphs">6.5%</text>
<text x="374.70" y="143.00" text-anchor="middle" font-size="12.0" fill="#086C08" stroke="#086C08" stroke-width="0.12" textLength="26.55" lengthAdjust="spacingAndGlyphs">2.0%</text>
<text x="437.10" y="143.00" text-anchor="middle" font-size="12.0" fill="#086C08" stroke="#086C08" stroke-width="0.12" textLength="33.03" lengthAdjust="spacingAndGlyphs">18.3%</text>
<text x="500.30" y="143.00" text-anchor="middle" font-size="12.0" fill="#086C08" stroke="#086C08" stroke-width="0.12" textLength="26.55" lengthAdjust="spacingAndGlyphs">7.9%</text>
<text x="563.20" y="143.00" text-anchor="middle" font-size="12.0" fill="#086C08" stroke="#086C08" stroke-width="0.12" textLength="26.55" lengthAdjust="spacingAndGlyphs">4.9%</text>
<text x="625.50" y="143.00" text-anchor="middle" font-size="12.0" fill="#086C08" stroke="#086C08" stroke-width="0.12" textLength="33.03" lengthAdjust="spacingAndGlyphs">10.4%</text>
<text x="4.4" y="158.75" font-size="12.0" fill="#000" stroke="#000" stroke-width="0.12" textLength="49.84" lengthAdjust="spacingAndGlyphs">FINLAND</text>
<text x="127.80" y="158.75" text-anchor="middle" font-size="12.0" fill="#A2060E" stroke="#A2060E" stroke-width="0.12" textLength="30.43" lengthAdjust="spacingAndGlyphs">-0.1%</text>
<text x="189.50" y="158.75" text-anchor="middle" font-size="12.0" fill="#A2060E" stroke="#A2060E" stroke-width="0.12" textLength="30.43" lengthAdjust="spacingAndGlyphs">-7.1%</text>
<text x="251.10" y="158.75" text-anchor="middle" font-size="12.0" fill="#A2060E" stroke="#A2060E" stroke-width="0.12" textLength="30.43" lengthAdjust="spacingAndGlyphs">-2.7%</text>
<text x="312.90" y="158.75" text-anchor="middle" font-size="12.0" fill="#A2060E" stroke="#A2060E" stroke-width="0.12" textLength="30.43" lengthAdjust="spacingAndGlyphs">-1.5%</text>
<text x="374.70" y="158.75" text-anchor="middle" font-size="12.0" fill="#A2060E" stroke="#A2060E" stroke-width="0.12" textLength="30.43" lengthAdjust="spacingAndGlyphs">-2.9%</text>
<text x="437.10" y="158.75" text-anchor="middle" font-size="12.0" fill="#A2060E" stroke="#A2060E" stroke-width="0.12" textLength="30.43" lengthAdjust="spacingAndGlyphs">-1.5%</text>
<text x="500.30" y="158.75" text-anchor="middle" font-size="12.0" fill="#086C08" stroke="#086C08" stroke-width="0.12" textLength="26.55" lengthAdjust="spacingAndGlyphs">7.5%</text>
<text x="563.20" y="158.75" text-anchor="middle" font-size="12.0" fill="#086C08" stroke="#086C08" stroke-width="0.12" textLength="26.55" lengthAdjust="spacingAndGlyphs">4.2%</text>
<text x="625.50" y="158.75" text-anchor="middle" font-size="12.0" fill="#086C08" stroke="#086C08" stroke-width="0.12" textLength="26.55" lengthAdjust="spacingAndGlyphs">3.4%</text>
<text x="4.4" y="174.50" font-size="12.0" fill="#000" stroke="#000" stroke-width="0.12" textLength="47.90" lengthAdjust="spacingAndGlyphs">FRANCE</text>
<text x="127.80" y="174.50" text-anchor="middle" font-size="12.0" fill="#A2060E" stroke="#A2060E" stroke-width="0.12" textLength="30.43" lengthAdjust="spacingAndGlyphs">-5.4%</text>
<text x="189.50" y="174.50" text-anchor="middle" font-size="12.0" fill="#A2060E" stroke="#A2060E" stroke-width="0.12" textLength="36.91" lengthAdjust="spacingAndGlyphs">-18.6%</text>
<text x="251.10" y="174.50" text-anchor="middle" font-size="12.0" fill="#A2060E" stroke="#A2060E" stroke-width="0.12" textLength="30.43" lengthAdjust="spacingAndGlyphs">-3.6%</text>
<text x="312.90" y="174.50" text-anchor="middle" font-size="12.0" fill="#A2060E" stroke="#A2060E" stroke-width="0.12" textLength="30.43" lengthAdjust="spacingAndGlyphs">-4.3%</text>
<text x="374.70" y="174.50" text-anchor="middle" font-size="12.0" fill="#A2060E" stroke="#A2060E" stroke-width="0.12" textLength="30.43" lengthAdjust="spacingAndGlyphs">-8.0%</text>
<text x="437.10" y="174.50" text-anchor="middle" font-size="12.0" fill="#086C08" stroke="#086C08" stroke-width="0.12" textLength="26.55" lengthAdjust="spacingAndGlyphs">1.5%</text>
<text x="500.30" y="174.50" text-anchor="middle" font-size="12.0" fill="#086C08" stroke="#086C08" stroke-width="0.12" textLength="33.03" lengthAdjust="spacingAndGlyphs">18.8%</text>
<text x="563.20" y="174.50" text-anchor="middle" font-size="12.0" fill="#086C08" stroke="#086C08" stroke-width="0.12" textLength="26.55" lengthAdjust="spacingAndGlyphs">3.3%</text>
<text x="625.50" y="174.50" text-anchor="middle" font-size="12.0" fill="#086C08" stroke="#086C08" stroke-width="0.12" textLength="26.55" lengthAdjust="spacingAndGlyphs">7.9%</text>
<text x="4.4" y="190.25" font-size="12.0" fill="#000" stroke="#000" stroke-width="0.12" textLength="58.90" lengthAdjust="spacingAndGlyphs">GERMANY</text>
<text x="127.80" y="190.25" text-anchor="middle" font-size="12.0" fill="#A2060E" stroke="#A2060E" stroke-width="0.12" textLength="30.43" lengthAdjust="spacingAndGlyphs">-1.9%</text>
<text x="189.50" y="190.25" text-anchor="middle" font-size="12.0" fill="#A2060E" stroke="#A2060E" stroke-width="0.12" textLength="36.05" lengthAdjust="spacingAndGlyphs">-11.3%</text>
<text x="251.10" y="190.25" text-anchor="middle" font-size="12.0" fill="#A2060E" stroke="#A2060E" stroke-width="0.12" textLength="30.43" lengthAdjust="spacingAndGlyphs">-3.7%</text>
<text x="312.90" y="190.25" text-anchor="middle" font-size="12.0" fill="#A2060E" stroke="#A2060E" stroke-width="0.12" textLength="30.43" lengthAdjust="spacingAndGlyphs">-2.9%</text>
<text x="374.70" y="190.25" text-anchor="middle" font-size="12.0" fill="#A2060E" stroke="#A2060E" stroke-width="0.12" textLength="30.43" lengthAdjust="spacingAndGlyphs">-5.0%</text>
<text x="437.10" y="190.25" text-anchor="middle" font-size="12.0" fill="#A2060E" stroke="#A2060E" stroke-width="0.12" textLength="30.43" lengthAdjust="spacingAndGlyphs">-2.9%</text>
<text x="500.30" y="190.25" text-anchor="middle" font-size="12.0" fill="#086C08" stroke="#086C08" stroke-width="0.12" textLength="26.55" lengthAdjust="spacingAndGlyphs">9.8%</text>
<text x="563.20" y="190.25" text-anchor="middle" font-size="12.0" fill="#086C08" stroke="#086C08" stroke-width="0.12" textLength="26.55" lengthAdjust="spacingAndGlyphs">2.5%</text>
<text x="625.50" y="190.25" text-anchor="middle" font-size="12.0" fill="#086C08" stroke="#086C08" stroke-width="0.12" textLength="26.55" lengthAdjust="spacingAndGlyphs">3.1%</text>
<text x="4.4" y="206.00" font-size="12.0" fill="#000" stroke="#000" stroke-width="0.12" textLength="72.49" lengthAdjust="spacingAndGlyphs">HONG KONG</text>
<text x="127.80" y="206.00" text-anchor="middle" font-size="12.0" fill="#A2060E" stroke="#A2060E" stroke-width="0.12" textLength="30.43" lengthAdjust="spacingAndGlyphs">-9.1%</text>
<text x="189.50" y="206.00" text-anchor="middle" font-size="12.0" fill="#A2060E" stroke="#A2060E" stroke-width="0.12" textLength="30.43" lengthAdjust="spacingAndGlyphs">-9.0%</text>
<text x="251.10" y="206.00" text-anchor="middle" font-size="12.0" fill="#A2060E" stroke="#A2060E" stroke-width="0.12" textLength="30.43" lengthAdjust="spacingAndGlyphs">-3.6%</text>
<text x="312.90" y="206.00" text-anchor="middle" font-size="12.0" fill="#A2060E" stroke="#A2060E" stroke-width="0.12" textLength="30.43" lengthAdjust="spacingAndGlyphs">-3.0%</text>
<text x="374.70" y="206.00" text-anchor="middle" font-size="12.0" fill="#A2060E" stroke="#A2060E" stroke-width="0.12" textLength="30.43" lengthAdjust="spacingAndGlyphs">-6.2%</text>
<text x="437.10" y="206.00" text-anchor="middle" font-size="12.0" fill="#086C08" stroke="#086C08" stroke-width="0.12" textLength="26.55" lengthAdjust="spacingAndGlyphs">8.0%</text>
<text x="500.30" y="206.00" text-anchor="middle" font-size="12.0" fill="#086C08" stroke="#086C08" stroke-width="0.12" textLength="26.55" lengthAdjust="spacingAndGlyphs">7.6%</text>
<text x="563.20" y="206.00" text-anchor="middle" font-size="12.0" fill="#086C08" stroke="#086C08" stroke-width="0.12" textLength="26.55" lengthAdjust="spacingAndGlyphs">5.4%</text>
<text x="625.50" y="206.00" text-anchor="middle" font-size="12.0" fill="#086C08" stroke="#086C08" stroke-width="0.12" textLength="26.55" lengthAdjust="spacingAndGlyphs">7.0%</text>
<text x="4.4" y="221.75" font-size="12.0" fill="#000" stroke="#000" stroke-width="0.12" textLength="31.07" lengthAdjust="spacingAndGlyphs">INDIA</text>
<text x="127.80" y="221.75" text-anchor="middle" font-size="12.0" fill="#086C08" stroke="#086C08" stroke-width="0.12" textLength="26.55" lengthAdjust="spacingAndGlyphs">3.0%</text>
<text x="189.50" y="221.75" text-anchor="middle" font-size="12.0" fill="#A2060E" stroke="#A2060E" stroke-width="0.12" textLength="36.91" lengthAdjust="spacingAndGlyphs">-24.4%</text>
<text x="251.10" y="221.75" text-anchor="middle" font-size="12.0" fill="#A2060E" stroke="#A2060E" stroke-width="0.12" textLength="30.43" lengthAdjust="spacingAndGlyphs">-7.4%</text>
<text x="312.90" y="221.75" text-anchor="middle" font-size="12.0" fill="#086C08" stroke="#086C08" stroke-width="0.12" textLength="26.55" lengthAdjust="spacingAndGlyphs">0.5%</text>
<text x="374.70" y="221.75" text-anchor="middle" font-size="12.0" fill="#A2060E" stroke="#A2060E" stroke-width="0.12" textLength="30.43" lengthAdjust="spacingAndGlyphs">-7.1%</text>
<text x="437.10" y="221.75" text-anchor="middle" font-size="12.0" fill="#086C08" stroke="#086C08" stroke-width="0.12" textLength="26.55" lengthAdjust="spacingAndGlyphs">1.6%</text>
<text x="500.30" y="221.75" text-anchor="middle" font-size="12.0" fill="#086C08" stroke="#086C08" stroke-width="0.12" textLength="33.03" lengthAdjust="spacingAndGlyphs">20.1%</text>
<text x="563.20" y="221.75" text-anchor="middle" font-size="12.0" fill="#086C08" stroke="#086C08" stroke-width="0.12" textLength="26.55" lengthAdjust="spacingAndGlyphs">8.4%</text>
<text x="625.50" y="221.75" text-anchor="middle" font-size="12.0" fill="#086C08" stroke="#086C08" stroke-width="0.12" textLength="33.03" lengthAdjust="spacingAndGlyphs">10.0%</text>
<text x="4.4" y="237.50" font-size="12.0" fill="#000" stroke="#000" stroke-width="0.12" textLength="64.09" lengthAdjust="spacingAndGlyphs">INDONESIA</text>
<text x="127.80" y="237.50" text-anchor="middle" font-size="12.0" fill="#086C08" stroke="#086C08" stroke-width="0.12" textLength="26.55" lengthAdjust="spacingAndGlyphs">3.0%</text>
<text x="189.50" y="237.50" text-anchor="middle" font-size="12.0" fill="#A2060E" stroke="#A2060E" stroke-width="0.12" textLength="30.43" lengthAdjust="spacingAndGlyphs">-5.3%</text>
<text x="251.10" y="237.50" text-anchor="middle" font-size="12.0" fill="#A2060E" stroke="#A2060E" stroke-width="0.12" textLength="30.43" lengthAdjust="spacingAndGlyphs">-3.5%</text>
<text x="312.90" y="237.50" text-anchor="middle" font-size="12.0" fill="#A2060E" stroke="#A2060E" stroke-width="0.12" textLength="30.43" lengthAdjust="spacingAndGlyphs">-2.2%</text>
<text x="374.70" y="237.50" text-anchor="middle" font-size="12.0" fill="#A2060E" stroke="#A2060E" stroke-width="0.12" textLength="30.43" lengthAdjust="spacingAndGlyphs">-2.0%</text>
<text x="437.10" y="237.50" text-anchor="middle" font-size="12.0" fill="#A2060E" stroke="#A2060E" stroke-width="0.12" textLength="30.43" lengthAdjust="spacingAndGlyphs">-0.7%</text>
<text x="500.30" y="237.50" text-anchor="middle" font-size="12.0" fill="#086C08" stroke="#086C08" stroke-width="0.12" textLength="26.55" lengthAdjust="spacingAndGlyphs">7.1%</text>
<text x="563.20" y="237.50" text-anchor="middle" font-size="12.0" fill="#086C08" stroke="#086C08" stroke-width="0.12" textLength="26.55" lengthAdjust="spacingAndGlyphs">3.5%</text>
<text x="625.50" y="237.50" text-anchor="middle" font-size="12.0" fill="#086C08" stroke="#086C08" stroke-width="0.12" textLength="26.55" lengthAdjust="spacingAndGlyphs">3.3%</text>
<text x="4.4" y="253.25" font-size="12.0" fill="#000" stroke="#000" stroke-width="0.12" textLength="50.50" lengthAdjust="spacingAndGlyphs">IRELAND</text>
<text x="127.80" y="253.25" text-anchor="middle" font-size="12.0" fill="#086C08" stroke="#086C08" stroke-width="0.12" textLength="26.55" lengthAdjust="spacingAndGlyphs">6.5%</text>
<text x="189.50" y="253.25" text-anchor="middle" font-size="12.0" fill="#086C08" stroke="#086C08" stroke-width="0.12" textLength="26.55" lengthAdjust="spacingAndGlyphs">1.4%</text>
<text x="251.10" y="253.25" text-anchor="middle" font-size="12.0" fill="#086C08" stroke="#086C08" stroke-width="0.12" textLength="33.03" lengthAdjust="spacingAndGlyphs">10.8%</text>
<text x="312.90" y="253.25" text-anchor="middle" font-size="12.0" fill="#086C08" stroke="#086C08" stroke-width="0.12" textLength="26.55" lengthAdjust="spacingAndGlyphs">4.5%</text>
<text x="374.70" y="253.25" text-anchor="middle" font-size="12.0" fill="#086C08" stroke="#086C08" stroke-width="0.12" textLength="26.55" lengthAdjust="spacingAndGlyphs">5.8%</text>
<text x="437.10" y="253.25" text-anchor="middle" font-size="12.0" fill="#086C08" stroke="#086C08" stroke-width="0.12" textLength="32.17" lengthAdjust="spacingAndGlyphs">11.7%</text>
<text x="500.30" y="253.25" text-anchor="middle" font-size="12.0" fill="#086C08" stroke="#086C08" stroke-width="0.12" textLength="33.03" lengthAdjust="spacingAndGlyphs">21.1%</text>
<text x="563.20" y="253.25" text-anchor="middle" font-size="12.0" fill="#086C08" stroke="#086C08" stroke-width="0.12" textLength="32.17" lengthAdjust="spacingAndGlyphs">11.4%</text>
<text x="625.50" y="253.25" text-anchor="middle" font-size="12.0" fill="#086C08" stroke="#086C08" stroke-width="0.12" textLength="33.03" lengthAdjust="spacingAndGlyphs">14.7%</text>
<text x="4.4" y="269.00" font-size="12.0" fill="#000" stroke="#000" stroke-width="0.12" textLength="30.64" lengthAdjust="spacingAndGlyphs">ITALY</text>
<text x="127.80" y="269.00" text-anchor="middle" font-size="12.0" fill="#A2060E" stroke="#A2060E" stroke-width="0.12" textLength="30.43" lengthAdjust="spacingAndGlyphs">-5.8%</text>
<text x="189.50" y="269.00" text-anchor="middle" font-size="12.0" fill="#A2060E" stroke="#A2060E" stroke-width="0.12" textLength="36.91" lengthAdjust="spacingAndGlyphs">-18.2%</text>
<text x="251.10" y="269.00" text-anchor="middle" font-size="12.0" fill="#A2060E" stroke="#A2060E" stroke-width="0.12" textLength="30.43" lengthAdjust="spacingAndGlyphs">-5.2%</text>
<text x="312.90" y="269.00" text-anchor="middle" font-size="12.0" fill="#A2060E" stroke="#A2060E" stroke-width="0.12" textLength="30.43" lengthAdjust="spacingAndGlyphs">-6.5%</text>
<text x="374.70" y="269.00" text-anchor="middle" font-size="12.0" fill="#A2060E" stroke="#A2060E" stroke-width="0.12" textLength="30.43" lengthAdjust="spacingAndGlyphs">-8.9%</text>
<text x="437.10" y="269.00" text-anchor="middle" font-size="12.0" fill="#A2060E" stroke="#A2060E" stroke-width="0.12" textLength="30.43" lengthAdjust="spacingAndGlyphs">-0.7%</text>
<text x="500.30" y="269.00" text-anchor="middle" font-size="12.0" fill="#086C08" stroke="#086C08" stroke-width="0.12" textLength="33.03" lengthAdjust="spacingAndGlyphs">17.0%</text>
<text x="563.20" y="269.00" text-anchor="middle" font-size="12.0" fill="#086C08" stroke="#086C08" stroke-width="0.12" textLength="26.55" lengthAdjust="spacingAndGlyphs">3.8%</text>
<text x="625.50" y="269.00" text-anchor="middle" font-size="12.0" fill="#086C08" stroke="#086C08" stroke-width="0.12" textLength="26.55" lengthAdjust="spacingAndGlyphs">6.7%</text>
<text x="4.4" y="284.75" font-size="12.0" fill="#000" stroke="#000" stroke-width="0.12" textLength="36.69" lengthAdjust="spacingAndGlyphs">JAPAN</text>
<text x="127.80" y="284.75" text-anchor="middle" font-size="12.0" fill="#A2060E" stroke="#A2060E" stroke-width="0.12" textLength="30.43" lengthAdjust="spacingAndGlyphs">-2.1%</text>
<text x="189.50" y="284.75" text-anchor="middle" font-size="12.0" fill="#A2060E" stroke="#A2060E" stroke-width="0.12" textLength="36.91" lengthAdjust="spacingAndGlyphs">-10.1%</text>
<text x="251.10" y="284.75" text-anchor="middle" font-size="12.0" fill="#A2060E" stroke="#A2060E" stroke-width="0.12" textLength="30.43" lengthAdjust="spacingAndGlyphs">-5.5%</text>
<text x="312.90" y="284.75" text-anchor="middle" font-size="12.0" fill="#A2060E" stroke="#A2060E" stroke-width="0.12" textLength="30.43" lengthAdjust="spacingAndGlyphs">-0.9%</text>
<text x="374.70" y="284.75" text-anchor="middle" font-size="12.0" fill="#A2060E" stroke="#A2060E" stroke-width="0.12" textLength="30.43" lengthAdjust="spacingAndGlyphs">-4.7%</text>
<text x="437.10" y="284.75" text-anchor="middle" font-size="12.0" fill="#A2060E" stroke="#A2060E" stroke-width="0.12" textLength="30.43" lengthAdjust="spacingAndGlyphs">-1.3%</text>
<text x="500.30" y="284.75" text-anchor="middle" font-size="12.0" fill="#086C08" stroke="#086C08" stroke-width="0.12" textLength="26.55" lengthAdjust="spacingAndGlyphs">7.6%</text>
<text x="563.20" y="284.75" text-anchor="middle" font-size="12.0" fill="#086C08" stroke="#086C08" stroke-width="0.12" textLength="26.55" lengthAdjust="spacingAndGlyphs">1.4%</text>
<text x="625.50" y="284.75" text-anchor="middle" font-size="12.0" fill="#086C08" stroke="#086C08" stroke-width="0.12" textLength="26.55" lengthAdjust="spacingAndGlyphs">2.6%</text>
<text x="4.4" y="300.50" font-size="12.0" fill="#000" stroke="#000" stroke-width="0.12" textLength="45.96" lengthAdjust="spacingAndGlyphs">MEXICO</text>
<text x="127.80" y="300.50" text-anchor="middle" font-size="12.0" fill="#A2060E" stroke="#A2060E" stroke-width="0.12" textLength="30.43" lengthAdjust="spacingAndGlyphs">-1.3%</text>
<text x="189.50" y="300.50" text-anchor="middle" font-size="12.0" fill="#A2060E" stroke="#A2060E" stroke-width="0.12" textLength="36.91" lengthAdjust="spacingAndGlyphs">-18.7%</text>
<text x="251.10" y="300.50" text-anchor="middle" font-size="12.0" fill="#A2060E" stroke="#A2060E" stroke-width="0.12" textLength="30.43" lengthAdjust="spacingAndGlyphs">-8.7%</text>
<text x="312.90" y="300.50" text-anchor="middle" font-size="12.0" fill="#A2060E" stroke="#A2060E" stroke-width="0.12" textLength="30.43" lengthAdjust="spacingAndGlyphs">-4.5%</text>
<text x="374.70" y="300.50" text-anchor="middle" font-size="12.0" fill="#A2060E" stroke="#A2060E" stroke-width="0.12" textLength="30.43" lengthAdjust="spacingAndGlyphs">-8.3%</text>
<text x="437.10" y="300.50" text-anchor="middle" font-size="12.0" fill="#A2060E" stroke="#A2060E" stroke-width="0.12" textLength="30.43" lengthAdjust="spacingAndGlyphs">-3.6%</text>
<text x="500.30" y="300.50" text-anchor="middle" font-size="12.0" fill="#086C08" stroke="#086C08" stroke-width="0.12" textLength="33.03" lengthAdjust="spacingAndGlyphs">19.6%</text>
<text x="563.20" y="300.50" text-anchor="middle" font-size="12.0" fill="#086C08" stroke="#086C08" stroke-width="0.12" textLength="26.55" lengthAdjust="spacingAndGlyphs">4.6%</text>
<text x="625.50" y="300.50" text-anchor="middle" font-size="12.0" fill="#086C08" stroke="#086C08" stroke-width="0.12" textLength="26.55" lengthAdjust="spacingAndGlyphs">6.9%</text>
<text x="4.4" y="316.25" font-size="12.0" fill="#000" stroke="#000" stroke-width="0.12" textLength="84.15" lengthAdjust="spacingAndGlyphs">NEW ZEALAND</text>
<text x="127.80" y="316.25" text-anchor="middle" font-size="12.0" fill="#086C08" stroke="#086C08" stroke-width="0.12" textLength="26.55" lengthAdjust="spacingAndGlyphs">0.1%</text>
<text x="189.50" y="316.25" text-anchor="middle" font-size="12.0" fill="#A2060E" stroke="#A2060E" stroke-width="0.12" textLength="36.91" lengthAdjust="spacingAndGlyphs">-10.2%</text>
<text x="251.10" y="316.25" text-anchor="middle" font-size="12.0" fill="#086C08" stroke="#086C08" stroke-width="0.12" textLength="26.55" lengthAdjust="spacingAndGlyphs">1.4%</text>
<text x="312.90" y="316.25" text-anchor="middle" font-size="12.0" fill="#086C08" stroke="#086C08" stroke-width="0.12" textLength="26.55" lengthAdjust="spacingAndGlyphs">0.1%</text>
<text x="374.70" y="316.25" text-anchor="middle" font-size="12.0" fill="#A2060E" stroke="#A2060E" stroke-width="0.12" textLength="30.43" lengthAdjust="spacingAndGlyphs">-2.2%</text>
<text x="437.10" y="316.25" text-anchor="middle" font-size="12.0" fill="#086C08" stroke="#086C08" stroke-width="0.12" textLength="26.55" lengthAdjust="spacingAndGlyphs">2.9%</text>
<text x="500.30" y="316.25" text-anchor="middle" font-size="12.0" fill="#086C08" stroke="#086C08" stroke-width="0.12" textLength="33.03" lengthAdjust="spacingAndGlyphs">17.9%</text>
<text x="563.20" y="316.25" text-anchor="middle" font-size="12.0" fill="#A2060E" stroke="#A2060E" stroke-width="0.12" textLength="30.43" lengthAdjust="spacingAndGlyphs">-0.3%</text>
<text x="625.50" y="316.25" text-anchor="middle" font-size="12.0" fill="#086C08" stroke="#086C08" stroke-width="0.12" textLength="26.55" lengthAdjust="spacingAndGlyphs">6.8%</text>
<text x="4.4" y="332.00" font-size="12.0" fill="#000" stroke="#000" stroke-width="0.12" textLength="71.87" lengthAdjust="spacingAndGlyphs">PHILIPPINES</text>
<text x="127.80" y="332.00" text-anchor="middle" font-size="12.0" fill="#A2060E" stroke="#A2060E" stroke-width="0.12" textLength="30.43" lengthAdjust="spacingAndGlyphs">-0.7%</text>
<text x="189.50" y="332.00" text-anchor="middle" font-size="12.0" fill="#A2060E" stroke="#A2060E" stroke-width="0.12" textLength="36.91" lengthAdjust="spacingAndGlyphs">-17.0%</text>
<text x="251.10" y="332.00" text-anchor="middle" font-size="12.0" fill="#A2060E" stroke="#A2060E" stroke-width="0.12" textLength="36.05" lengthAdjust="spacingAndGlyphs">-11.6%</text>
<text x="312.90" y="332.00" text-anchor="middle" font-size="12.0" fill="#A2060E" stroke="#A2060E" stroke-width="0.12" textLength="30.43" lengthAdjust="spacingAndGlyphs">-8.3%</text>
<text x="374.70" y="332.00" text-anchor="middle" font-size="12.0" fill="#A2060E" stroke="#A2060E" stroke-width="0.12" textLength="30.43" lengthAdjust="spacingAndGlyphs">-9.4%</text>
<text x="437.10" y="332.00" text-anchor="middle" font-size="12.0" fill="#A2060E" stroke="#A2060E" stroke-width="0.12" textLength="30.43" lengthAdjust="spacingAndGlyphs">-3.9%</text>
<text x="500.30" y="332.00" text-anchor="middle" font-size="12.0" fill="#086C08" stroke="#086C08" stroke-width="0.12" textLength="33.03" lengthAdjust="spacingAndGlyphs">12.0%</text>
<text x="563.20" y="332.00" text-anchor="middle" font-size="12.0" fill="#086C08" stroke="#086C08" stroke-width="0.12" textLength="26.55" lengthAdjust="spacingAndGlyphs">7.1%</text>
<text x="625.50" y="332.00" text-anchor="middle" font-size="12.0" fill="#086C08" stroke="#086C08" stroke-width="0.12" textLength="26.55" lengthAdjust="spacingAndGlyphs">5.1%</text>
<text x="4.4" y="347.75" font-size="12.0" fill="#000" stroke="#000" stroke-width="0.12" textLength="47.91" lengthAdjust="spacingAndGlyphs">POLAND</text>
<text x="127.80" y="347.75" text-anchor="middle" font-size="12.0" fill="#086C08" stroke="#086C08" stroke-width="0.12" textLength="29.79" lengthAdjust="spacingAndGlyphs">2..2%</text>
<text x="189.50" y="347.75" text-anchor="middle" font-size="12.0" fill="#A2060E" stroke="#A2060E" stroke-width="0.12" textLength="30.43" lengthAdjust="spacingAndGlyphs">-8.2%</text>
<text x="251.10" y="347.75" text-anchor="middle" font-size="12.0" fill="#A2060E" stroke="#A2060E" stroke-width="0.12" textLength="30.43" lengthAdjust="spacingAndGlyphs">-1.5%</text>
<text x="312.90" y="347.75" text-anchor="middle" font-size="12.0" fill="#A2060E" stroke="#A2060E" stroke-width="0.12" textLength="30.43" lengthAdjust="spacingAndGlyphs">-2.5%</text>
<text x="374.70" y="347.75" text-anchor="middle" font-size="12.0" fill="#A2060E" stroke="#A2060E" stroke-width="0.12" textLength="30.43" lengthAdjust="spacingAndGlyphs">-4.1%</text>
<text x="437.10" y="347.75" text-anchor="middle" font-size="12.0" fill="#A2060E" stroke="#A2060E" stroke-width="0.12" textLength="30.43" lengthAdjust="spacingAndGlyphs">-0.8%</text>
<text x="500.30" y="347.75" text-anchor="middle" font-size="12.0" fill="#086C08" stroke="#086C08" stroke-width="0.12" textLength="32.17" lengthAdjust="spacingAndGlyphs">11.2%</text>
<text x="563.20" y="347.75" text-anchor="middle" font-size="12.0" fill="#086C08" stroke="#086C08" stroke-width="0.12" textLength="26.55" lengthAdjust="spacingAndGlyphs">5.3%</text>
<text x="625.50" y="347.75" text-anchor="middle" font-size="12.0" fill="#086C08" stroke="#086C08" stroke-width="0.12" textLength="26.55" lengthAdjust="spacingAndGlyphs">5.2%</text>
<text x="4.4" y="363.50" font-size="12.0" fill="#000" stroke="#000" stroke-width="0.12" textLength="63.88" lengthAdjust="spacingAndGlyphs">PORTUGAL</text>
<text x="127.80" y="363.50" text-anchor="middle" font-size="12.0" fill="#A2060E" stroke="#A2060E" stroke-width="0.12" textLength="30.43" lengthAdjust="spacingAndGlyphs">-2.6%</text>
<text x="189.50" y="363.50" text-anchor="middle" font-size="12.0" fill="#A2060E" stroke="#A2060E" stroke-width="0.12" textLength="36.91" lengthAdjust="spacingAndGlyphs">-17.9%</text>
<text x="251.10" y="363.50" text-anchor="middle" font-size="12.0" fill="#A2060E" stroke="#A2060E" stroke-width="0.12" textLength="30.43" lengthAdjust="spacingAndGlyphs">-6.3%</text>
<text x="312.90" y="363.50" text-anchor="middle" font-size="12.0" fill="#A2060E" stroke="#A2060E" stroke-width="0.12" textLength="30.43" lengthAdjust="spacingAndGlyphs">-6.8%</text>
<text x="374.70" y="363.50" text-anchor="middle" font-size="12.0" fill="#A2060E" stroke="#A2060E" stroke-width="0.12" textLength="30.43" lengthAdjust="spacingAndGlyphs">-8.4%</text>
<text x="437.10" y="363.50" text-anchor="middle" font-size="12.0" fill="#A2060E" stroke="#A2060E" stroke-width="0.12" textLength="30.43" lengthAdjust="spacingAndGlyphs">-5.7%</text>
<text x="500.30" y="363.50" text-anchor="middle" font-size="12.0" fill="#086C08" stroke="#086C08" stroke-width="0.12" textLength="33.03" lengthAdjust="spacingAndGlyphs">16.1%</text>
<text x="563.20" y="363.50" text-anchor="middle" font-size="12.0" fill="#086C08" stroke="#086C08" stroke-width="0.12" textLength="26.55" lengthAdjust="spacingAndGlyphs">4.2%</text>
<text x="625.50" y="363.50" text-anchor="middle" font-size="12.0" fill="#086C08" stroke="#086C08" stroke-width="0.12" textLength="26.55" lengthAdjust="spacingAndGlyphs">4.9%</text>
<text x="4.4" y="379.25" font-size="12.0" fill="#000" stroke="#000" stroke-width="0.12" textLength="43.37" lengthAdjust="spacingAndGlyphs">RUSSIA</text>
<text x="127.80" y="379.25" text-anchor="middle" font-size="12.0" fill="#086C08" stroke="#086C08" stroke-width="0.12" textLength="26.55" lengthAdjust="spacingAndGlyphs">1.4%</text>
<text x="189.50" y="379.25" text-anchor="middle" font-size="12.0" fill="#A2060E" stroke="#A2060E" stroke-width="0.12" textLength="30.43" lengthAdjust="spacingAndGlyphs">-7.8%</text>
<text x="251.10" y="379.25" text-anchor="middle" font-size="12.0" fill="#A2060E" stroke="#A2060E" stroke-width="0.12" textLength="30.43" lengthAdjust="spacingAndGlyphs">-3.5%</text>
<text x="312.90" y="379.25" text-anchor="middle" font-size="12.0" fill="#A2060E" stroke="#A2060E" stroke-width="0.12" textLength="30.43" lengthAdjust="spacingAndGlyphs">-1.8%</text>
<text x="374.70" y="379.25" text-anchor="middle" font-size="12.0" fill="#A2060E" stroke="#A2060E" stroke-width="0.12" textLength="30.43" lengthAdjust="spacingAndGlyphs">-2.9%</text>
<text x="437.10" y="379.25" text-anchor="middle" font-size="12.0" fill="#A2060E" stroke="#A2060E" stroke-width="0.12" textLength="30.43" lengthAdjust="spacingAndGlyphs">-0.7%</text>
<text x="500.30" y="379.25" text-anchor="middle" font-size="12.0" fill="#086C08" stroke="#086C08" stroke-width="0.12" textLength="33.03" lengthAdjust="spacingAndGlyphs">10.5%</text>
<text x="563.20" y="379.25" text-anchor="middle" font-size="12.0" fill="#086C08" stroke="#086C08" stroke-width="0.12" textLength="26.55" lengthAdjust="spacingAndGlyphs">4.3%</text>
<text x="625.50" y="379.25" text-anchor="middle" font-size="12.0" fill="#086C08" stroke="#086C08" stroke-width="0.12" textLength="26.55" lengthAdjust="spacingAndGlyphs">4.7%</text>
<text x="4.4" y="395.00" font-size="12.0" fill="#000" stroke="#000" stroke-width="0.12" textLength="80.93" lengthAdjust="spacingAndGlyphs">SAUDI ARABIA</text>
<text x="127.80" y="395.00" text-anchor="middle" font-size="12.0" fill="#A2060E" stroke="#A2060E" stroke-width="0.12" textLength="30.43" lengthAdjust="spacingAndGlyphs">-1.1%</text>
<text x="189.50" y="395.00" text-anchor="middle" font-size="12.0" fill="#A2060E" stroke="#A2060E" stroke-width="0.12" textLength="30.43" lengthAdjust="spacingAndGlyphs">-7.2%</text>
<text x="251.10" y="395.00" text-anchor="middle" font-size="12.0" fill="#A2060E" stroke="#A2060E" stroke-width="0.12" textLength="30.43" lengthAdjust="spacingAndGlyphs">-4.5%</text>
<text x="312.90" y="395.00" text-anchor="middle" font-size="12.0" fill="#A2060E" stroke="#A2060E" stroke-width="0.12" textLength="30.43" lengthAdjust="spacingAndGlyphs">-3.8%</text>
<text x="374.70" y="395.00" text-anchor="middle" font-size="12.0" fill="#A2060E" stroke="#A2060E" stroke-width="0.12" textLength="30.43" lengthAdjust="spacingAndGlyphs">-4.2%</text>
<text x="437.10" y="395.00" text-anchor="middle" font-size="12.0" fill="#A2060E" stroke="#A2060E" stroke-width="0.12" textLength="30.43" lengthAdjust="spacingAndGlyphs">-2.6%</text>
<text x="500.30" y="395.00" text-anchor="middle" font-size="12.0" fill="#086C08" stroke="#086C08" stroke-width="0.12" textLength="26.55" lengthAdjust="spacingAndGlyphs">1.9%</text>
<text x="563.20" y="395.00" text-anchor="middle" font-size="12.0" fill="#086C08" stroke="#086C08" stroke-width="0.12" textLength="26.55" lengthAdjust="spacingAndGlyphs">7.0%</text>
<text x="625.50" y="395.00" text-anchor="middle" font-size="12.0" fill="#086C08" stroke="#086C08" stroke-width="0.12" textLength="26.55" lengthAdjust="spacingAndGlyphs">2.1%</text>
<text x="4.4" y="410.75" font-size="12.0" fill="#000" stroke="#000" stroke-width="0.12" textLength="69.27" lengthAdjust="spacingAndGlyphs">SINGAPORE</text>
<text x="127.80" y="410.75" text-anchor="middle" font-size="12.0" fill="#000000" stroke="#000000" stroke-width="0.12" textLength="26.55" lengthAdjust="spacingAndGlyphs">0.0%</text>
<text x="189.50" y="410.75" text-anchor="middle" font-size="12.0" fill="#A2060E" stroke="#A2060E" stroke-width="0.12" textLength="36.91" lengthAdjust="spacingAndGlyphs">-13.3%</text>
<text x="251.10" y="410.75" text-anchor="middle" font-size="12.0" fill="#A2060E" stroke="#A2060E" stroke-width="0.12" textLength="30.43" lengthAdjust="spacingAndGlyphs">-5.8%</text>
<text x="312.90" y="410.75" text-anchor="middle" font-size="12.0" fill="#A2060E" stroke="#A2060E" stroke-width="0.12" textLength="30.43" lengthAdjust="spacingAndGlyphs">-2.4%</text>
<text x="374.70" y="410.75" text-anchor="middle" font-size="12.0" fill="#A2060E" stroke="#A2060E" stroke-width="0.12" textLength="30.43" lengthAdjust="spacingAndGlyphs">-5.4%</text>
<text x="437.10" y="410.75" text-anchor="middle" font-size="12.0" fill="#086C08" stroke="#086C08" stroke-width="0.12" textLength="26.55" lengthAdjust="spacingAndGlyphs">1.5%</text>
<text x="500.30" y="410.75" text-anchor="middle" font-size="12.0" fill="#086C08" stroke="#086C08" stroke-width="0.12" textLength="33.03" lengthAdjust="spacingAndGlyphs">15.2%</text>
<text x="563.20" y="410.75" text-anchor="middle" font-size="12.0" fill="#086C08" stroke="#086C08" stroke-width="0.12" textLength="26.55" lengthAdjust="spacingAndGlyphs">6.5%</text>
<text x="625.50" y="410.75" text-anchor="middle" font-size="12.0" fill="#086C08" stroke="#086C08" stroke-width="0.12" textLength="26.55" lengthAdjust="spacingAndGlyphs">7.7%</text>
<text x="4.4" y="426.50" font-size="12.0" fill="#000" stroke="#000" stroke-width="0.12" textLength="86.09" lengthAdjust="spacingAndGlyphs">SOUTH AFRICA</text>
<text x="127.80" y="426.50" text-anchor="middle" font-size="12.0" fill="#086C08" stroke="#086C08" stroke-width="0.12" textLength="26.55" lengthAdjust="spacingAndGlyphs">0.5%</text>
<text x="189.50" y="426.50" text-anchor="middle" font-size="12.0" fill="#A2060E" stroke="#A2060E" stroke-width="0.12" textLength="36.91" lengthAdjust="spacingAndGlyphs">-16.8%</text>
<text x="251.10" y="426.50" text-anchor="middle" font-size="12.0" fill="#A2060E" stroke="#A2060E" stroke-width="0.12" textLength="30.43" lengthAdjust="spacingAndGlyphs">-5.8%</text>
<text x="312.90" y="426.50" text-anchor="middle" font-size="12.0" fill="#A2060E" stroke="#A2060E" stroke-width="0.12" textLength="30.43" lengthAdjust="spacingAndGlyphs">-3.5%</text>
<text x="374.70" y="426.50" text-anchor="middle" font-size="12.0" fill="#A2060E" stroke="#A2060E" stroke-width="0.12" textLength="30.43" lengthAdjust="spacingAndGlyphs">-6.4%</text>
<text x="437.10" y="426.50" text-anchor="middle" font-size="12.0" fill="#A2060E" stroke="#A2060E" stroke-width="0.12" textLength="30.43" lengthAdjust="spacingAndGlyphs">-2.6%</text>
<text x="500.30" y="426.50" text-anchor="middle" font-size="12.0" fill="#086C08" stroke="#086C08" stroke-width="0.12" textLength="33.03" lengthAdjust="spacingAndGlyphs">19.1%</text>
<text x="563.20" y="426.50" text-anchor="middle" font-size="12.0" fill="#086C08" stroke="#086C08" stroke-width="0.12" textLength="26.55" lengthAdjust="spacingAndGlyphs">2.9%</text>
<text x="625.50" y="426.50" text-anchor="middle" font-size="12.0" fill="#086C08" stroke="#086C08" stroke-width="0.12" textLength="26.55" lengthAdjust="spacingAndGlyphs">6.5%</text>
<text x="4.4" y="442.25" font-size="12.0" fill="#000" stroke="#000" stroke-width="0.12" textLength="84.80" lengthAdjust="spacingAndGlyphs">SOUTH KOREA</text>
<text x="127.80" y="442.25" text-anchor="middle" font-size="12.0" fill="#086C08" stroke="#086C08" stroke-width="0.12" textLength="26.55" lengthAdjust="spacingAndGlyphs">1.5%</text>
<text x="189.50" y="442.25" text-anchor="middle" font-size="12.0" fill="#A2060E" stroke="#A2060E" stroke-width="0.12" textLength="30.43" lengthAdjust="spacingAndGlyphs">-2.6%</text>
<text x="251.10" y="442.25" text-anchor="middle" font-size="12.0" fill="#A2060E" stroke="#A2060E" stroke-width="0.12" textLength="30.43" lengthAdjust="spacingAndGlyphs">-1.0%</text>
<text x="312.90" y="442.25" text-anchor="middle" font-size="12.0" fill="#A2060E" stroke="#A2060E" stroke-width="0.12" textLength="30.43" lengthAdjust="spacingAndGlyphs">-1.1%</text>
<text x="374.70" y="442.25" text-anchor="middle" font-size="12.0" fill="#A2060E" stroke="#A2060E" stroke-width="0.12" textLength="30.43" lengthAdjust="spacingAndGlyphs">-0.8%</text>
<text x="437.10" y="442.25" text-anchor="middle" font-size="12.0" fill="#086C08" stroke="#086C08" stroke-width="0.12" textLength="26.55" lengthAdjust="spacingAndGlyphs">1.9%</text>
<text x="500.30" y="442.25" text-anchor="middle" font-size="12.0" fill="#086C08" stroke="#086C08" stroke-width="0.12" textLength="26.55" lengthAdjust="spacingAndGlyphs">6.0%</text>
<text x="563.20" y="442.25" text-anchor="middle" font-size="12.0" fill="#086C08" stroke="#086C08" stroke-width="0.12" textLength="26.55" lengthAdjust="spacingAndGlyphs">4.0%</text>
<text x="625.50" y="442.25" text-anchor="middle" font-size="12.0" fill="#086C08" stroke="#086C08" stroke-width="0.12" textLength="26.55" lengthAdjust="spacingAndGlyphs">4.0%</text>
<text x="4.4" y="458.00" font-size="12.0" fill="#000" stroke="#000" stroke-width="0.12" textLength="34.10" lengthAdjust="spacingAndGlyphs">SPAIN</text>
<text x="127.80" y="458.00" text-anchor="middle" font-size="12.0" fill="#A2060E" stroke="#A2060E" stroke-width="0.12" textLength="30.43" lengthAdjust="spacingAndGlyphs">-4.3%</text>
<text x="189.50" y="458.00" text-anchor="middle" font-size="12.0" fill="#A2060E" stroke="#A2060E" stroke-width="0.12" textLength="36.91" lengthAdjust="spacingAndGlyphs">-21.5%</text>
<text x="251.10" y="458.00" text-anchor="middle" font-size="12.0" fill="#A2060E" stroke="#A2060E" stroke-width="0.12" textLength="30.43" lengthAdjust="spacingAndGlyphs">-8.7%</text>
<text x="312.90" y="458.00" text-anchor="middle" font-size="12.0" fill="#A2060E" stroke="#A2060E" stroke-width="0.12" textLength="30.43" lengthAdjust="spacingAndGlyphs">-8.8%</text>
<text x="374.70" y="458.00" text-anchor="middle" font-size="12.0" fill="#A2060E" stroke="#A2060E" stroke-width="0.12" textLength="36.91" lengthAdjust="spacingAndGlyphs">-10.8%</text>
<text x="437.10" y="458.00" text-anchor="middle" font-size="12.0" fill="#A2060E" stroke="#A2060E" stroke-width="0.12" textLength="30.43" lengthAdjust="spacingAndGlyphs">-4.2%</text>
<text x="500.30" y="458.00" text-anchor="middle" font-size="12.0" fill="#086C08" stroke="#086C08" stroke-width="0.12" textLength="33.03" lengthAdjust="spacingAndGlyphs">17.5%</text>
<text x="563.20" y="458.00" text-anchor="middle" font-size="12.0" fill="#086C08" stroke="#086C08" stroke-width="0.12" textLength="26.55" lengthAdjust="spacingAndGlyphs">2.7%</text>
<text x="625.50" y="458.00" text-anchor="middle" font-size="12.0" fill="#086C08" stroke="#086C08" stroke-width="0.12" textLength="26.55" lengthAdjust="spacingAndGlyphs">5.3%</text>
<text x="4.4" y="473.75" font-size="12.0" fill="#000" stroke="#000" stroke-width="0.12" textLength="51.13" lengthAdjust="spacingAndGlyphs">SWEDEN</text>
<text x="127.80" y="473.75" text-anchor="middle" font-size="12.0" fill="#086C08" stroke="#086C08" stroke-width="0.12" textLength="26.55" lengthAdjust="spacingAndGlyphs">0.2%</text>
<text x="189.50" y="473.75" text-anchor="middle" font-size="12.0" fill="#A2060E" stroke="#A2060E" stroke-width="0.12" textLength="30.43" lengthAdjust="spacingAndGlyphs">-8.1%</text>
<text x="251.10" y="473.75" text-anchor="middle" font-size="12.0" fill="#A2060E" stroke="#A2060E" stroke-width="0.12" textLength="30.43" lengthAdjust="spacingAndGlyphs">-2.0%</text>
<text x="312.90" y="473.75" text-anchor="middle" font-size="12.0" fill="#A2060E" stroke="#A2060E" stroke-width="0.12" textLength="30.43" lengthAdjust="spacingAndGlyphs">-1.9%</text>
<text x="374.70" y="473.75" text-anchor="middle" font-size="12.0" fill="#A2060E" stroke="#A2060E" stroke-width="0.12" textLength="30.43" lengthAdjust="spacingAndGlyphs">-3.0%</text>
<text x="437.10" y="473.75" text-anchor="middle" font-size="12.0" fill="#A2060E" stroke="#A2060E" stroke-width="0.12" textLength="30.43" lengthAdjust="spacingAndGlyphs">-0.2%</text>
<text x="500.30" y="473.75" text-anchor="middle" font-size="12.0" fill="#086C08" stroke="#086C08" stroke-width="0.12" textLength="26.55" lengthAdjust="spacingAndGlyphs">9.7%</text>
<text x="563.20" y="473.75" text-anchor="middle" font-size="12.0" fill="#086C08" stroke="#086C08" stroke-width="0.12" textLength="26.55" lengthAdjust="spacingAndGlyphs">4.7%</text>
<text x="625.50" y="473.75" text-anchor="middle" font-size="12.0" fill="#086C08" stroke="#086C08" stroke-width="0.12" textLength="26.55" lengthAdjust="spacingAndGlyphs">4.7%</text>
<text x="4.4" y="489.50" font-size="12.0" fill="#000" stroke="#000" stroke-width="0.12" textLength="83.50" lengthAdjust="spacingAndGlyphs">SWITZERLAND</text>
<text x="127.80" y="489.50" text-anchor="middle" font-size="12.0" fill="#000000" stroke="#000000" stroke-width="0.12" textLength="26.55" lengthAdjust="spacingAndGlyphs">0.0%</text>
<text x="189.50" y="489.50" text-anchor="middle" font-size="12.0" fill="#A2060E" stroke="#A2060E" stroke-width="0.12" textLength="30.43" lengthAdjust="spacingAndGlyphs">-6.7%</text>
<text x="251.10" y="489.50" text-anchor="middle" font-size="12.0" fill="#A2060E" stroke="#A2060E" stroke-width="0.12" textLength="30.43" lengthAdjust="spacingAndGlyphs">-1.4%</text>
<text x="312.90" y="489.50" text-anchor="middle" font-size="12.0" fill="#A2060E" stroke="#A2060E" stroke-width="0.12" textLength="30.43" lengthAdjust="spacingAndGlyphs">-1.5%</text>
<text x="374.70" y="489.50" text-anchor="middle" font-size="12.0" fill="#A2060E" stroke="#A2060E" stroke-width="0.12" textLength="30.43" lengthAdjust="spacingAndGlyphs">-2.4%</text>
<text x="437.10" y="489.50" text-anchor="middle" font-size="12.0" fill="#086C08" stroke="#086C08" stroke-width="0.12" textLength="26.55" lengthAdjust="spacingAndGlyphs">0.3%</text>
<text x="500.30" y="489.50" text-anchor="middle" font-size="12.0" fill="#086C08" stroke="#086C08" stroke-width="0.12" textLength="26.55" lengthAdjust="spacingAndGlyphs">8.6%</text>
<text x="563.20" y="489.50" text-anchor="middle" font-size="12.0" fill="#086C08" stroke="#086C08" stroke-width="0.12" textLength="26.55" lengthAdjust="spacingAndGlyphs">4.1%</text>
<text x="625.50" y="489.50" text-anchor="middle" font-size="12.0" fill="#086C08" stroke="#086C08" stroke-width="0.12" textLength="26.55" lengthAdjust="spacingAndGlyphs">4.3%</text>
<text x="4.4" y="505.25" font-size="12.0" fill="#000" stroke="#000" stroke-width="0.12" textLength="47.25" lengthAdjust="spacingAndGlyphs">TURKEY</text>
<text x="127.80" y="505.25" text-anchor="middle" font-size="12.0" fill="#086C08" stroke="#086C08" stroke-width="0.12" textLength="26.55" lengthAdjust="spacingAndGlyphs">4.4%</text>
<text x="189.50" y="505.25" text-anchor="middle" font-size="12.0" fill="#A2060E" stroke="#A2060E" stroke-width="0.12" textLength="36.91" lengthAdjust="spacingAndGlyphs">-10.4%</text>
<text x="251.10" y="505.25" text-anchor="middle" font-size="12.0" fill="#086C08" stroke="#086C08" stroke-width="0.12" textLength="26.55" lengthAdjust="spacingAndGlyphs">6.3%</text>
<text x="312.90" y="505.25" text-anchor="middle" font-size="12.0" fill="#086C08" stroke="#086C08" stroke-width="0.12" textLength="26.55" lengthAdjust="spacingAndGlyphs">6.2%</text>
<text x="374.70" y="505.25" text-anchor="middle" font-size="12.0" fill="#086C08" stroke="#086C08" stroke-width="0.12" textLength="26.55" lengthAdjust="spacingAndGlyphs">1.6%</text>
<text x="437.10" y="505.25" text-anchor="middle" font-size="12.0" fill="#086C08" stroke="#086C08" stroke-width="0.12" textLength="26.55" lengthAdjust="spacingAndGlyphs">7.2%</text>
<text x="500.30" y="505.25" text-anchor="middle" font-size="12.0" fill="#086C08" stroke="#086C08" stroke-width="0.12" textLength="33.03" lengthAdjust="spacingAndGlyphs">21.7%</text>
<text x="563.20" y="505.25" text-anchor="middle" font-size="12.0" fill="#086C08" stroke="#086C08" stroke-width="0.12" textLength="26.55" lengthAdjust="spacingAndGlyphs">7.4%</text>
<text x="625.50" y="505.25" text-anchor="middle" font-size="12.0" fill="#086C08" stroke="#086C08" stroke-width="0.12" textLength="33.03" lengthAdjust="spacingAndGlyphs">12.1%</text>
<text x="4.4" y="521.00" font-size="12.0" fill="#000" stroke="#000" stroke-width="0.12" textLength="16.18" lengthAdjust="spacingAndGlyphs">UK</text>
<text x="127.80" y="521.00" text-anchor="middle" font-size="12.0" fill="#A2060E" stroke="#A2060E" stroke-width="0.12" textLength="30.43" lengthAdjust="spacingAndGlyphs">-2.2%</text>
<text x="189.50" y="521.00" text-anchor="middle" font-size="12.0" fill="#A2060E" stroke="#A2060E" stroke-width="0.12" textLength="36.91" lengthAdjust="spacingAndGlyphs">-21.4%</text>
<text x="251.10" y="521.00" text-anchor="middle" font-size="12.0" fill="#A2060E" stroke="#A2060E" stroke-width="0.12" textLength="30.43" lengthAdjust="spacingAndGlyphs">-8.5%</text>
<text x="312.90" y="521.00" text-anchor="middle" font-size="12.0" fill="#A2060E" stroke="#A2060E" stroke-width="0.12" textLength="30.43" lengthAdjust="spacingAndGlyphs">-7.3%</text>
<text x="374.70" y="521.00" text-anchor="middle" font-size="12.0" fill="#A2060E" stroke="#A2060E" stroke-width="0.12" textLength="30.43" lengthAdjust="spacingAndGlyphs">-9.9%</text>
<text x="437.10" y="521.00" text-anchor="middle" font-size="12.0" fill="#A2060E" stroke="#A2060E" stroke-width="0.12" textLength="30.43" lengthAdjust="spacingAndGlyphs">-6.1%</text>
<text x="500.30" y="521.00" text-anchor="middle" font-size="12.0" fill="#086C08" stroke="#086C08" stroke-width="0.12" textLength="33.03" lengthAdjust="spacingAndGlyphs">22.2%</text>
<text x="563.20" y="521.00" text-anchor="middle" font-size="12.0" fill="#086C08" stroke="#086C08" stroke-width="0.12" textLength="26.55" lengthAdjust="spacingAndGlyphs">6.6%</text>
<text x="625.50" y="521.00" text-anchor="middle" font-size="12.0" fill="#086C08" stroke="#086C08" stroke-width="0.12" textLength="26.55" lengthAdjust="spacingAndGlyphs">7.6%</text>
<text x="4.4" y="536.75" font-size="12.0" fill="#000" stroke="#000" stroke-width="0.12" textLength="16.18" lengthAdjust="spacingAndGlyphs">US</text>
<text x="127.80" y="536.75" text-anchor="middle" font-size="12.0" fill="#086C08" stroke="#086C08" stroke-width="0.12" textLength="26.55" lengthAdjust="spacingAndGlyphs">0.3%</text>
<text x="189.50" y="536.75" text-anchor="middle" font-size="12.0" fill="#A2060E" stroke="#A2060E" stroke-width="0.12" textLength="30.43" lengthAdjust="spacingAndGlyphs">-9.0%</text>
<text x="251.10" y="536.75" text-anchor="middle" font-size="12.0" fill="#A2060E" stroke="#A2060E" stroke-width="0.12" textLength="30.43" lengthAdjust="spacingAndGlyphs">-2.8%</text>
<text x="312.90" y="536.75" text-anchor="middle" font-size="12.0" fill="#A2060E" stroke="#A2060E" stroke-width="0.12" textLength="30.43" lengthAdjust="spacingAndGlyphs">-2.4%</text>
<text x="374.70" y="536.75" text-anchor="middle" font-size="12.0" fill="#A2060E" stroke="#A2060E" stroke-width="0.12" textLength="30.43" lengthAdjust="spacingAndGlyphs">-3.5%</text>
<text x="437.10" y="536.75" text-anchor="middle" font-size="12.0" fill="#086C08" stroke="#086C08" stroke-width="0.12" textLength="26.55" lengthAdjust="spacingAndGlyphs">0.5%</text>
<text x="500.30" y="536.75" text-anchor="middle" font-size="12.0" fill="#086C08" stroke="#086C08" stroke-width="0.12" textLength="33.03" lengthAdjust="spacingAndGlyphs">12.2%</text>
<text x="563.20" y="536.75" text-anchor="middle" font-size="12.0" fill="#086C08" stroke="#086C08" stroke-width="0.12" textLength="26.55" lengthAdjust="spacingAndGlyphs">4.9%</text>
<text x="625.50" y="536.75" text-anchor="middle" font-size="12.0" fill="#086C08" stroke="#086C08" stroke-width="0.12" textLength="26.55" lengthAdjust="spacingAndGlyphs">5.9%</text>
<rect x="10.8" y="547" width="112.7" height="25.8" fill="#fff"/>
<path d="M32.62,553.09 A10.6,10.6 0 1 0 32.62,566.71" fill="none" stroke="#1DB4EC" stroke-width="1.7" stroke-linecap="round"/>
<path d="M29.48,554.92 A6.9,6.9 0 1 0 29.48,564.68" fill="none" stroke="#1DB4EC" stroke-width="1.6" stroke-linecap="round"/>
<path d="M24.8,557.6 L27.5,561.6 L22.7,561.6 Z" fill="#1DB4EC" stroke="#1DB4EC" stroke-width="0.4" stroke-linejoin="round"/>
<text x="38.0" y="564.1" font-size="11.9" style="font-family:&quot;DejaVu Sans&quot;,&quot;Liberation Sans&quot;,sans-serif;font-weight:200" fill="#1E2B4E" stroke="#1E2B4E" stroke-width="0.45" textLength="83.2" lengthAdjust="spacingAndGlyphs">COMPOUND</text>
<text x="286.8" y="562.4" font-size="12" font-style="italic" fill="#111" stroke="#111" stroke-width="0.35" textLength="84.5" lengthAdjust="spacingAndGlyphs">@CharlieBilello</text>
</svg></body></html>
